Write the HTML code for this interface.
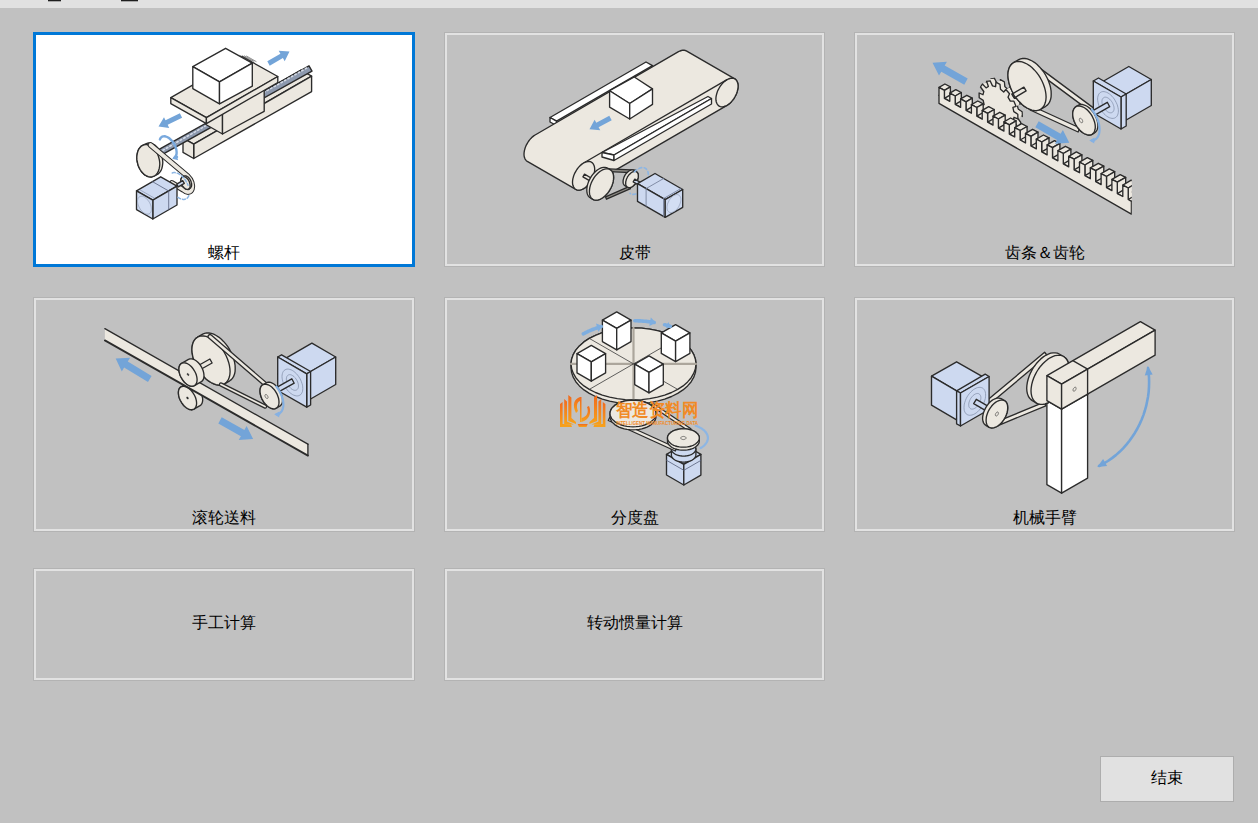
<!DOCTYPE html>
<html><head><meta charset="utf-8">
<style>
html,body{margin:0;padding:0;}
body{width:1258px;height:823px;background:#c1c1c1;position:relative;overflow:hidden;font-family:"Liberation Sans",sans-serif;}
.top{position:absolute;left:0;top:0;width:1258px;height:8px;background:#e1e1e1;}
.mk{position:absolute;top:0;height:1px;background:#1e1e1e;box-shadow:0 0.6px 0.4px rgba(30,30,30,.5);}
.card{position:absolute;box-sizing:border-box;border:1px solid #b3b3b3;}
.card .in{position:absolute;left:0;top:0;right:0;bottom:0;border:2px solid #e2e2e2;}
.card.sel{border:3px solid #0078d7;background:#fff;}
.lbl{position:absolute;left:0;right:0;text-align:center;font-size:16px;color:#000;line-height:16px;}
.btn{position:absolute;left:1100px;top:756px;width:134px;height:46px;box-sizing:border-box;border:1px solid #adadad;background:#e1e1e1;text-align:center;line-height:42px;font-size:16px;}
svg.ov{position:absolute;left:0;top:0;}
</style></head><body>
<div class="top"></div>
<div class="mk" style="left:48px;width:13px"></div>
<div class="mk" style="left:121px;width:17px"></div>

<div class="card sel" style="left:33px;top:32px;width:382px;height:235px"><div class="lbl" style="top:210px">螺杆</div></div>
<div class="card" style="left:444px;top:32px;width:381px;height:235px"><div class="in"></div><div class="lbl" style="top:212px">皮带</div></div>
<div class="card" style="left:854px;top:32px;width:381px;height:235px"><div class="in"></div><div class="lbl" style="top:212px">齿条＆齿轮</div></div>

<div class="card" style="left:33px;top:297px;width:382px;height:235px"><div class="in"></div><div class="lbl" style="top:212px">滚轮送料</div></div>
<div class="card" style="left:444px;top:297px;width:381px;height:235px"><div class="in"></div><div class="lbl" style="top:212px">分度盘</div></div>
<div class="card" style="left:854px;top:297px;width:381px;height:235px"><div class="in"></div><div class="lbl" style="top:212px">机械手臂</div></div>

<div class="card" style="left:33px;top:568px;width:382px;height:113px"><div class="in"></div><div class="lbl" style="top:46px">手工计算</div></div>
<div class="card" style="left:444px;top:568px;width:381px;height:113px"><div class="in"></div><div class="lbl" style="top:46px">转动惯量计算</div></div>

<div class="btn">结束</div>

<svg class="ov" width="1258" height="823" viewBox="0 0 1258 823">
<polygon points="183,138.1 193.7,144.2 311.6,76.1 300.9,70" fill="#ece8e0" stroke="#2b2b2b" stroke-width="1.35" stroke-linejoin="round" />
<polygon points="193.7,144.2 311.6,76.1 311.6,91.6 193.7,158.5" fill="#ece8e0" stroke="#2b2b2b" stroke-width="1.35" stroke-linejoin="round" />
<polygon points="183,138.1 193.7,144.2 193.7,158.5 183,152.4" fill="#ece8e0" stroke="#2b2b2b" stroke-width="1.35" stroke-linejoin="round" />
<polygon points="158.5,156.7 312,71.2 309,65.8 155.5,151.3" fill="#8d99ae" stroke="#2b2b2b" stroke-width="1.35" stroke-linejoin="round" />
<polyline points="159.5,152.2 308.5,67" fill="none" stroke="#d5dbe6" stroke-width="1.6" stroke-linejoin="round" stroke-linecap="round" stroke-dasharray="1.5 2.5"/>
<polygon points="205.8,103.5 222.5,113 222.5,134 205.8,124.5" fill="#ece8e0" stroke="#2b2b2b" stroke-width="1.35" stroke-linejoin="round" />
<polygon points="222.5,113 264.2,89 264.2,111.3 222.5,134" fill="#ece8e0" stroke="#2b2b2b" stroke-width="1.35" stroke-linejoin="round" />
<polygon points="170.8,97.7 206.4,117.6 277.8,76.5 242.2,56.6" fill="#ece8e0" stroke="#2b2b2b" stroke-width="1.35" stroke-linejoin="round" />
<polygon points="170.8,97.7 206.4,117.6 206.4,123.6 170.8,103.7" fill="#ece8e0" stroke="#2b2b2b" stroke-width="1.35" stroke-linejoin="round" />
<polygon points="206.4,117.6 277.8,76.5 277.8,82.5 206.4,123.6" fill="#ece8e0" stroke="#2b2b2b" stroke-width="1.35" stroke-linejoin="round" />
<polygon points="225.6,48.3 192.8,66.7 219.5,81.9 252.3,63.1" fill="#ffffff" stroke="#2b2b2b" stroke-width="1.35" stroke-linejoin="round" />
<polygon points="192.8,66.7 219.5,81.9 219.5,103.8 192.8,88.6" fill="#ffffff" stroke="#2b2b2b" stroke-width="1.35" stroke-linejoin="round" />
<polygon points="219.5,81.9 252.3,63.1 252.3,86.2 219.5,103.8" fill="#ffffff" stroke="#2b2b2b" stroke-width="1.35" stroke-linejoin="round" />
<polyline points="240,55.5 249.5,60.9" fill="none" stroke="#444" stroke-width="0.6" stroke-linejoin="round" stroke-linecap="round" />
<polyline points="242.2,55.7 251.7,61.1" fill="none" stroke="#444" stroke-width="0.6" stroke-linejoin="round" stroke-linecap="round" />
<polyline points="244.4,55.9 253.9,61.3" fill="none" stroke="#444" stroke-width="0.6" stroke-linejoin="round" stroke-linecap="round" />
<polyline points="246.6,56.1 256.1,61.5" fill="none" stroke="#444" stroke-width="0.6" stroke-linejoin="round" stroke-linecap="round" />
<polygon points="269.7,65.7 282.9,58.1 284.7,61.2 289.5,51.5 278.7,50.8 280.4,53.8 267.3,61.3" fill="#73a4d8"/>
<polygon points="179.9,113.3 165.5,120.3 164,117.2 158.5,126.5 169.2,127.9 167.7,124.8 182.1,117.7" fill="#73a4d8"/>
<polygon points="136.8,157.3 137,155.3 137.3,153.4 137.8,151.5 138.4,149.9 139.3,148.4 140.3,147.2 141.4,146.1 142.7,145.4 145.7,143.8 147,143.3 148.4,143 149.9,143.1 151.4,143.4 152.9,144 154.4,144.8 155.8,145.9 157.1,147.2 158.4,148.8 159.5,150.5 160.5,152.3 161.3,154.3 161.9,156.3 162.4,158.5 162.7,160.6 162.8,162.7 162.6,164.7 162.3,166.6 161.8,168.5 161.2,170.1 160.3,171.6 159.3,172.8 158.2,173.9 156.9,174.6 153.9,176.2 152.6,176.7 151.2,177 149.7,176.9 148.2,176.6 146.7,176 145.2,175.2 143.8,174.1 142.5,172.8 141.2,171.2 140.1,169.5 139.1,167.7 138.3,165.7 137.7,163.7 137.2,161.5 136.9,159.4" fill="#ece8e0" stroke="#2b2b2b" stroke-width="1.35" stroke-linejoin="round" />
<polygon points="158.9,158 159.4,160.1 159.7,162.2 159.8,164.3 159.6,166.3 159.3,168.2 158.8,170.1 158.2,171.7 157.3,173.2 156.3,174.4 155.2,175.5 153.9,176.2 152.6,176.7 151.1,177 149.7,176.9 148.2,176.6 146.7,176 145.2,175.2 143.8,174.1 142.5,172.8 141.2,171.2 140.1,169.5 139.1,167.7 138.3,165.7 137.7,163.6 137.2,161.5 136.9,159.4 136.8,157.3 137,155.3 137.3,153.4 137.8,151.5 138.4,149.9 139.3,148.4 140.3,147.2 141.4,146.1 142.7,145.4 144,144.9 145.5,144.6 146.9,144.7 148.4,145 149.9,145.6 151.4,146.4 152.8,147.5 154.1,148.8 155.4,150.4 156.5,152.1 157.5,153.9 158.3,155.9" fill="#ece8e0" stroke="#2b2b2b" stroke-width="1.35" stroke-linejoin="round" />
<path d="M150.5,145 L188,176.5 A4.5,7.2 -25 0 1 183.5,190 L172,183" fill="none" stroke="#2b2b2b" stroke-width="5.6" stroke-linejoin="round" stroke-linecap="round" />
<path d="M150.5,145 L188,176.5 A4.5,7.2 -25 0 1 183.5,190 L172,183" fill="none" stroke="#ece8e0" stroke-width="3.6" stroke-linejoin="round" stroke-linecap="round" />
<polygon points="180.9,180.6 180.9,179.8 181,179.1 181.2,178.5 181.5,177.9 181.8,177.5 182.2,177.1 182.6,176.8 184.1,176 184.6,175.9 185.2,175.8 185.7,175.9 186.3,176 186.9,176.3 187.5,176.7 188.1,177.1 188.7,177.7 189.2,178.3 189.8,179 190.2,179.7 190.6,180.5 191,181.3 191.2,182.2 191.4,183 191.6,183.8 191.6,184.6 191.6,185.4 191.5,186.1 191.3,186.7 191,187.2 190.7,187.7 190.3,188.1 189.9,188.4 188.4,189.2 187.9,189.3 187.3,189.4 186.8,189.3 186.2,189.2 185.6,188.9 185,188.6 184.4,188.1 183.8,187.6 183.2,186.9 182.7,186.2 182.3,185.5 181.9,184.7 181.5,183.9 181.2,183 181.1,182.2 180.9,181.4" fill="#ece8e0" stroke="#2b2b2b" stroke-width="1.35" stroke-linejoin="round" />
<polygon points="189.1,181.3 189.5,182.1 189.7,183 189.9,183.8 190.1,184.6 190.1,185.4 190.1,186.2 190,186.9 189.8,187.5 189.5,188 189.2,188.5 188.8,188.9 188.4,189.2 187.9,189.3 187.3,189.4 186.8,189.3 186.2,189.2 185.6,188.9 185,188.6 184.4,188.1 183.8,187.5 183.3,186.9 182.7,186.2 182.3,185.5 181.9,184.7 181.5,183.9 181.3,183 181.1,182.2 180.9,181.4 180.9,180.6 180.9,179.8 181,179.1 181.2,178.5 181.5,178 181.8,177.5 182.2,177.1 182.6,176.8 183.1,176.7 183.7,176.6 184.2,176.7 184.8,176.8 185.4,177.1 186,177.4 186.6,177.9 187.2,178.5 187.7,179.1 188.3,179.8 188.7,180.5" fill="#ece8e0" stroke="#2b2b2b" stroke-width="1.35" stroke-linejoin="round" />
<polygon points="136.5,190.8 160.7,176.8 177,186.2 152.8,200.2" fill="#cdd9f0" stroke="#2b2b2b" stroke-width="1.35" stroke-linejoin="round" />
<polygon points="152.8,200.2 177,186.2 177,205 152.8,219" fill="#cdd9f0" stroke="#2b2b2b" stroke-width="1.35" stroke-linejoin="round" />
<polygon points="136.5,190.8 152.8,200.2 152.8,219 136.5,209.6" fill="#cdd9f0" stroke="#2b2b2b" stroke-width="1.35" stroke-linejoin="round" />
<polyline points="168.7,191 168.7,209.8" fill="none" stroke="#56607a" stroke-width="0.8" stroke-linejoin="round" stroke-linecap="round" />
<polyline points="152.4,181.6 168.7,191" fill="none" stroke="#56607a" stroke-width="0.8" stroke-linejoin="round" stroke-linecap="round" />
<polyline points="140.4,190.1 154.5,198.2" fill="none" stroke="#7c879e" stroke-width="0.6" stroke-linejoin="round" stroke-linecap="round" />
<polygon points="151.4,209.2 151.3,210.2 151.2,211.1 150.9,212 150.5,212.7 150,213.2 149.4,213.7 148.7,214 147.9,214.1 147.1,214.1 146.3,214 145.4,213.7 144.5,213.2 143.6,212.6 142.7,211.9 141.8,211.1 141,210.1 140.2,209.1 139.6,208 139,206.9 138.5,205.7 138.1,204.6 137.8,203.4 137.6,202.3 137.5,201.2 137.6,200.2 137.8,199.3 138.1,198.4 138.5,197.7 139,197.2 139.6,196.7 140.2,196.4 141,196.3 141.8,196.3 142.7,196.4 143.6,196.7 144.5,197.2 145.4,197.8 146.3,198.5 147.1,199.3 147.9,200.3 148.7,201.3 149.4,202.4 150,203.5 150.5,204.7 150.9,205.8 151.2,207 151.3,208.1" fill="#d3def3" stroke="#8a96ac" stroke-width="0.6" stroke-linejoin="round" />
<polygon points="178.3,186.8 184.3,183.3 182.7,180.7 176.7,184.2" fill="#cdd9f0" stroke="#2b2b2b" stroke-width="1.35" stroke-linejoin="round" />
<polyline points="159.9,139.4 160.4,138.3 161.2,137.4 162.1,136.7 163.2,136.4 164.5,136.3 165.8,136.5 167.1,137 168.5,137.8 169.9,138.8 171.2,140.1 172.4,141.5 173.6,143.1 174.6,144.7 175.4,146.5 176,148.3 176.4,150.1 176.6,151.8 176.6,153.4 176.4,154.8 176,156.1 175.3,157.1 174.5,157.9 177,157" fill="none" stroke="#79a9de" stroke-width="2.4" stroke-linejoin="round" stroke-linecap="round" />
<polygon points="175.8,153.7 172.3,158.7 178.2,160.2" fill="#79a9de"/>
<polyline points="172.3,173 172.9,172.8 173.5,172.6 174.2,172.6 174.9,172.6 175.6,172.7 176.3,172.9 177,173.1 177.8,173.4 178.5,173.7 179.3,174.2 180.1,174.7 180.8,175.2 181.5,175.8 182.3,176.5 183,177.2 183.7,178 184.3,178.8 185,179.6 185.6,180.5 186.1,181.4 186.7,182.3 187.2,183.3 187.6,184.2 188,185.2" fill="none" stroke="#8db6e4" stroke-width="1.5" stroke-linejoin="round" stroke-linecap="round" stroke-dasharray="3 2"/>
<polyline points="188.8,195.7 188.5,196.3 188.3,196.7 188,197.2 187.7,197.6 187.3,198 187,198.3 186.6,198.6 186.1,198.8 185.7,199 185.2,199.2 184.7,199.3 184.2,199.4 183.7,199.4 183.1,199.4 182.6,199.3 182,199.2 181.4,199.1 180.8,198.9 180.2,198.6 179.6,198.3 179,198 178.4,197.6 177.8,197.2 177.2,196.8" fill="none" stroke="#8db6e4" stroke-width="1.5" stroke-linejoin="round" stroke-linecap="round" stroke-dasharray="3 2"/>
<polygon points="550,117.5 646,62 652.5,65.7 556.5,121.2" fill="#ffffff" stroke="#2b2b2b" stroke-width="1.35" stroke-linejoin="round" />
<polygon points="550,117.5 556.5,121.2 556.5,125.5 550,122" fill="#ffffff" stroke="#2b2b2b" stroke-width="1.35" stroke-linejoin="round" />
<polygon points="524,154.2 524.1,152.5 524.4,150.7 524.9,148.8 525.5,146.9 526.3,145.1 527.3,143.3 528.4,141.5 529.6,139.9 530.9,138.4 532.2,137.1 533.7,135.9 535.1,135 678.5,51.7 680,51 681.4,50.5 682.8,50.2 684,50.2 685.2,50.5 686.3,50.9 734.8,78.9 735.8,79.6 736.6,80.6 737.2,81.7 737.7,83 738,84.5 738.1,86.1 738,87.8 737.7,89.6 737.2,91.5 736.6,93.4 735.8,95.2 734.8,97 733.8,98.8 732.5,100.4 731.2,101.9 729.9,103.2 728.5,104.4 727,105.3 583.6,188.6 582.1,189.3 580.7,189.8 579.4,190.1 578.1,190.1 576.9,189.8 575.8,189.4 527.3,161.4 526.3,160.7 525.5,159.7 524.9,158.6 524.4,157.3 524.1,155.8" fill="#ece8e0" stroke="#2b2b2b" stroke-width="1.35" stroke-linejoin="round" />
<polygon points="738.1,86.1 738,87.8 737.7,89.6 737.2,91.5 736.6,93.4 735.8,95.2 734.8,97 733.7,98.8 732.5,100.4 731.2,101.9 729.9,103.2 728.4,104.4 727,105.3 725.6,106 724.1,106.5 722.8,106.8 721.5,106.8 720.3,106.6 719.2,106.1 718.2,105.4 717.4,104.4 716.8,103.3 716.3,102 716,100.5 715.9,98.9 716,97.2 716.3,95.4 716.8,93.5 717.4,91.6 718.2,89.8 719.2,88 720.3,86.2 721.5,84.6 722.8,83.1 724.1,81.8 725.6,80.6 727,79.7 728.4,79 729.9,78.5 731.2,78.2 732.5,78.2 733.7,78.4 734.8,78.9 735.8,79.6 736.6,80.6 737.2,81.7 737.7,83 738,84.5" fill="#ece8e0" stroke="#2b2b2b" stroke-width="1.35" stroke-linejoin="round" />
<polyline points="583.6,163 727,79.7" fill="none" stroke="#2b2b2b" stroke-width="1.35" stroke-linejoin="round" stroke-linecap="round" />
<polygon points="602,152.5 708,96.5 711.5,98.5 614,155" fill="#ffffff" stroke="#2b2b2b" stroke-width="1.35" stroke-linejoin="round" />
<polygon points="602,152.5 614,155 614,160.5 602,157" fill="#ffffff" stroke="#2b2b2b" stroke-width="1.35" stroke-linejoin="round" />
<polygon points="614,155 711.5,98.5 711.5,104 614,160.5" fill="#ffffff" stroke="#2b2b2b" stroke-width="1.35" stroke-linejoin="round" />
<polygon points="634.3,77 609.6,90.7 629.7,103.5 652.5,88.9" fill="#ffffff" stroke="#2b2b2b" stroke-width="1.35" stroke-linejoin="round" />
<polygon points="609.6,90.7 629.7,103.5 629.7,119 609.6,107.2" fill="#ffffff" stroke="#2b2b2b" stroke-width="1.35" stroke-linejoin="round" />
<polygon points="629.7,103.5 652.5,88.9 652.5,104.4 629.7,119" fill="#ffffff" stroke="#2b2b2b" stroke-width="1.35" stroke-linejoin="round" />
<polygon points="609.3,115.8 596.3,122.8 594.6,119.7 589.5,129.2 600.3,130.3 598.6,127.2 611.7,120.2" fill="#73a4d8"/>
<polygon points="594.7,169.4 594.6,171.1 594.3,172.9 593.8,174.8 593.2,176.7 592.4,178.5 591.4,180.3 590.3,182.1 589.1,183.7 587.8,185.2 586.5,186.5 585,187.7 583.6,188.6 582.2,189.3 580.7,189.8 579.4,190.1 578.1,190.1 576.9,189.9 575.8,189.4 574.8,188.7 574,187.7 573.4,186.6 572.9,185.3 572.6,183.8 572.5,182.2 572.6,180.5 572.9,178.7 573.4,176.8 574,174.9 574.8,173.1 575.8,171.3 576.9,169.5 578.1,167.9 579.4,166.4 580.7,165.1 582.2,163.9 583.6,163 585,162.3 586.5,161.8 587.8,161.5 589.1,161.5 590.3,161.7 591.4,162.2 592.4,162.9 593.2,163.9 593.8,165 594.3,166.3 594.6,167.8" fill="#ece8e0" stroke="#2b2b2b" stroke-width="1.35" stroke-linejoin="round" />
<polygon points="582.9,176.8 591.2,181.6 592.8,179 584.5,174.2" fill="#ece8e0" stroke="#2b2b2b" stroke-width="1.35" stroke-linejoin="round" />
<polygon points="603.9,171.3 635.9,172.8 636.1,170.2 604.1,168.7" fill="#8d8a84" stroke="#2b2b2b" stroke-width="1.35" stroke-linejoin="round" />
<polygon points="606.5,199.2 630.5,188.7 629.5,186.3 605.5,196.8" fill="#8d8a84" stroke="#2b2b2b" stroke-width="1.35" stroke-linejoin="round" />
<polygon points="586.8,190 586.9,188.1 587.2,186.1 587.7,184.1 588.4,182.1 589.3,180 590.3,178.1 591.5,176.2 592.8,174.4 594.3,172.7 595.8,171.3 597.3,170 598.9,169 600.5,168.2 602,167.7 603.5,167.4 605,167.4 606.3,167.6 607.5,168.2 610.1,169.7 611.1,170.4 612,171.4 612.7,172.7 613.2,174.1 613.5,175.7 613.6,177.5 613.5,179.4 613.2,181.4 612.7,183.4 612,185.4 611.1,187.5 610.1,189.4 608.9,191.3 607.6,193.1 606.1,194.8 604.6,196.2 603.1,197.5 601.5,198.5 599.9,199.3 598.4,199.8 596.9,200.1 595.4,200.1 594.1,199.9 592.9,199.3 590.3,197.8 589.3,197.1 588.4,196.1 587.7,194.8 587.2,193.4 586.9,191.8" fill="#ece8e0" stroke="#2b2b2b" stroke-width="1.35" stroke-linejoin="round" />
<polygon points="613.6,177.5 613.5,179.4 613.2,181.4 612.7,183.4 612,185.4 611.1,187.5 610.1,189.4 608.9,191.3 607.6,193.1 606.1,194.8 604.6,196.2 603.1,197.5 601.5,198.5 599.9,199.3 598.4,199.8 596.9,200.1 595.4,200.1 594.1,199.9 592.9,199.3 591.9,198.6 591,197.6 590.3,196.3 589.8,194.9 589.5,193.3 589.4,191.5 589.5,189.6 589.8,187.6 590.3,185.6 591,183.6 591.9,181.5 592.9,179.6 594.1,177.7 595.4,175.9 596.9,174.2 598.4,172.8 599.9,171.5 601.5,170.5 603.1,169.7 604.6,169.2 606.1,168.9 607.6,168.9 608.9,169.1 610.1,169.7 611.1,170.4 612,171.4 612.7,172.7 613.2,174.1 613.5,175.7" fill="#ece8e0" stroke="#2b2b2b" stroke-width="1.35" stroke-linejoin="round" />
<polygon points="623.1,181.7 623.1,180.7 623.3,179.6 623.6,178.6 623.9,177.5 624.4,176.4 624.9,175.4 625.5,174.4 626.2,173.5 627,172.7 627.8,171.9 628.6,171.2 629.4,170.7 630.2,170.3 631,170 631.8,169.9 632.6,169.8 633.2,170 633.9,170.3 636.5,171.8 637,172.2 637.5,172.7 637.8,173.3 638.1,174.1 638.3,174.9 638.3,175.8 638.3,176.8 638.1,177.9 637.8,178.9 637.5,180 637,181.1 636.5,182.1 635.9,183.1 635.2,184 634.4,184.8 633.6,185.6 632.8,186.3 632,186.8 631.2,187.2 630.4,187.5 629.6,187.6 628.8,187.7 628.1,187.5 627.5,187.2 624.9,185.7 624.4,185.3 623.9,184.8 623.6,184.2 623.3,183.4 623.1,182.6" fill="#ece8e0" stroke="#2b2b2b" stroke-width="1.35" stroke-linejoin="round" />
<polygon points="638.3,175.8 638.3,176.8 638.1,177.9 637.8,178.9 637.5,180 637,181 636.5,182.1 635.8,183.1 635.2,184 634.4,184.8 633.6,185.6 632.8,186.3 632,186.8 631.2,187.2 630.4,187.5 629.6,187.6 628.8,187.6 628.2,187.5 627.5,187.2 627,186.8 626.5,186.3 626.2,185.7 625.9,184.9 625.7,184.1 625.7,183.2 625.7,182.2 625.9,181.1 626.2,180.1 626.5,179 627,178 627.5,176.9 628.2,175.9 628.8,175 629.6,174.2 630.4,173.4 631.2,172.7 632,172.2 632.8,171.8 633.6,171.5 634.4,171.4 635.2,171.4 635.8,171.5 636.5,171.8 637,172.2 637.5,172.7 637.8,173.3 638.1,174.1 638.3,174.9" fill="#ece8e0" stroke="#2b2b2b" stroke-width="1.35" stroke-linejoin="round" />
<polygon points="633.2,181.9 639.2,185.4 640.8,182.6 634.8,179.1" fill="#cdd9f0" stroke="#2b2b2b" stroke-width="1.35" stroke-linejoin="round" />
<polyline points="634.4,171.8 636.3,170.2 638.2,168.9 640,168.1 641.8,167.6 643.5,167.6 645,168.1 646.3,169 647.3,170.3 648,171.9 648.3,173.8 648.4,176 648,178.3 647.4,180.7 646.4,183.2 645.2,185.5 643.7,187.7 642,189.7 640.2,191.4 638.4,192.8 636.5,193.7 634.7,194.3 632.9,194.4 631.4,194.1 630,193.3" fill="none" stroke="#8db6e4" stroke-width="1.6" stroke-linejoin="round" stroke-linecap="round" stroke-dasharray="3 2.5"/>
<polygon points="665.2,199.6 637.5,183.6 655,173.5 682.7,189.5" fill="#cdd9f0" stroke="#2b2b2b" stroke-width="1.35" stroke-linejoin="round" />
<polygon points="637.5,183.6 665.2,199.6 665.2,217.4 637.5,201.4" fill="#cdd9f0" stroke="#2b2b2b" stroke-width="1.35" stroke-linejoin="round" />
<polygon points="665.2,199.6 682.7,189.5 682.7,207.3 665.2,217.4" fill="#cdd9f0" stroke="#2b2b2b" stroke-width="1.35" stroke-linejoin="round" />
<polyline points="646.1,188.6 646.1,206.4" fill="none" stroke="#6d7893" stroke-width="0.8" stroke-linejoin="round" stroke-linecap="round" />
<polyline points="663.5,198.6 663.5,216.4" fill="none" stroke="#6d7893" stroke-width="0.8" stroke-linejoin="round" stroke-linecap="round" />
<polyline points="646.1,188.6 663.6,178.5" fill="none" stroke="#6d7893" stroke-width="0.8" stroke-linejoin="round" stroke-linecap="round" />
<polyline points="663.5,198.6 681,188.5" fill="none" stroke="#6d7893" stroke-width="0.8" stroke-linejoin="round" stroke-linecap="round" />
<polygon points="680.9,199.5 680.8,200.6 680.6,201.8 680.3,202.9 679.9,204.1 679.4,205.2 678.8,206.4 678.2,207.5 677.4,208.5 676.6,209.4 675.7,210.2 674.9,211 673.9,211.5 673,212 672.2,212.3 671.3,212.5 670.5,212.5 669.7,212.3 669,212 668.5,211.6 667.9,211 667.5,210.3 667.3,209.5 667.1,208.6 667,207.5 667.1,206.5 667.3,205.3 667.5,204.2 667.9,203 668.5,201.9 669,200.7 669.7,199.6 670.5,198.6 671.3,197.7 672.2,196.9 673,196.1 673.9,195.5 674.9,195.1 675.7,194.8 676.6,194.6 677.4,194.6 678.2,194.8 678.8,195.1 679.4,195.5 679.9,196.1 680.3,196.8 680.6,197.6 680.8,198.5" fill="#d3def3" stroke="#8a96ac" stroke-width="0.6" stroke-linejoin="round" />
<polygon points="1018.3,114.8 1017.5,118 1020.8,122.5 1018.9,125.5 1015.2,121.6 1013,123 1014.7,128.2 1011.2,128.7 1008.8,123.6 1005.7,122.8 1005.4,127.3 1001.3,125.1 1000.8,120.2 997.6,117.5 995.4,120 991.8,115.7 993.4,112.3 991,108.4 987.4,108.3 985.3,103.1 988.4,102.1 987.5,97.9 983.5,95.3 983.4,90.5 987.4,92.2 988.1,89 984.8,84.5 986.8,81.5 990.5,85.4 992.7,84 991,78.8 994.4,78.3 996.9,83.4 1000,84.2 1000.3,79.7 1004.3,81.9 1004.9,86.8 1008,89.5 1010.3,87 1013.9,91.3 1012.3,94.7 1014.7,98.6 1018.3,98.7 1020.4,103.9 1017.2,104.9 1018.2,109.1 1022.1,111.7 1022.3,116.5" fill="#ece8e0" stroke="#2b2b2b" stroke-width="1.35" stroke-linejoin="round" />
<polygon points="1017.4,115.3 1016.7,118.5 1020,123 1018,126 1014.3,122.1 1012.1,123.5 1013.8,128.7 1010.4,129.2 1007.9,124.1 1004.8,123.3 1004.5,127.8 1000.5,125.6 999.9,120.7 996.8,118 994.5,120.5 990.9,116.2 992.5,112.8 990.1,108.9 986.5,108.8 984.4,103.6 987.6,102.6 986.6,98.4 982.6,95.8 982.5,91 986.5,92.7 987.3,89.5 984,85 985.9,82 989.6,85.9 991.8,84.5 990.1,79.3 993.6,78.8 996,83.9 999.1,84.7 999.4,80.2 1003.5,82.4 1004,87.3 1007.2,90 1009.4,87.5 1013,91.8 1011.4,95.2 1013.8,99.1 1017.4,99.2 1019.5,104.4 1016.4,105.4 1017.3,109.6 1021.3,112.2 1021.4,117" fill="#ece8e0" stroke="none" stroke-width="1.35" stroke-linejoin="round" />
<polygon points="1016.6,115.8 1015.8,119 1019.1,123.5 1017.2,126.5 1013.5,122.6 1011.2,124 1013,129.2 1009.5,129.7 1007.1,124.6 1004,123.8 1003.7,128.3 999.6,126.1 999.1,121.2 995.9,118.5 993.7,121 990.1,116.7 991.6,113.3 989.3,109.4 985.7,109.3 983.5,104.1 986.7,103.1 985.8,98.9 981.8,96.3 981.7,91.5 985.6,93.2 986.4,90 983.1,85.5 985,82.5 988.7,86.4 991,85 989.2,79.8 992.7,79.3 995.1,84.4 998.2,85.2 998.5,80.7 1002.6,82.9 1003.1,87.8 1006.3,90.5 1008.5,88 1012.1,92.3 1010.6,95.7 1012.9,99.6 1016.5,99.7 1018.7,104.9 1015.5,105.9 1016.4,110.1 1020.4,112.7 1020.5,117.5" fill="#ece8e0" stroke="none" stroke-width="1.35" stroke-linejoin="round" />
<polygon points="1015.7,116.3 1014.9,119.5 1018.2,124 1016.3,127 1012.6,123.1 1010.4,124.5 1012.1,129.7 1008.6,130.2 1006.2,125.1 1003.1,124.3 1002.8,128.8 998.7,126.6 998.2,121.7 995,119 992.8,121.5 989.2,117.2 990.8,113.8 988.4,109.9 984.8,109.8 982.7,104.6 985.8,103.6 984.9,99.4 980.9,96.8 980.8,92 984.8,93.7 985.5,90.5 982.2,86 984.2,83 987.9,86.9 990.1,85.5 988.4,80.3 991.8,79.8 994.3,84.9 997.4,85.7 997.7,81.2 1001.7,83.4 1002.3,88.3 1005.4,91 1007.7,88.5 1011.3,92.8 1009.7,96.2 1012.1,100.1 1015.7,100.2 1017.8,105.4 1014.6,106.4 1015.6,110.6 1019.5,113.2 1019.7,118" fill="#ece8e0" stroke="none" stroke-width="1.35" stroke-linejoin="round" />
<polygon points="1014.8,116.8 1014.1,120 1017.4,124.5 1015.4,127.5 1011.7,123.6 1009.5,125 1011.2,130.2 1007.8,130.7 1005.3,125.6 1002.2,124.8 1001.9,129.3 997.9,127.1 997.3,122.2 994.2,119.5 991.9,122 988.3,117.7 989.9,114.3 987.5,110.4 983.9,110.3 981.8,105.1 985,104.1 984,99.9 980,97.3 979.9,92.5 983.9,94.2 984.7,91 981.4,86.5 983.3,83.5 987,87.4 989.2,86 987.5,80.8 991,80.3 993.4,85.4 996.5,86.2 996.8,81.7 1000.9,83.9 1001.4,88.8 1004.6,91.5 1006.8,89 1010.4,93.3 1008.8,96.7 1011.2,100.6 1014.8,100.7 1016.9,105.9 1013.8,106.9 1014.7,111.1 1018.7,113.7 1018.8,118.5" fill="#ece8e0" stroke="none" stroke-width="1.35" stroke-linejoin="round" />
<polygon points="1014,117.3 1013.2,120.5 1016.5,125 1014.6,128 1010.9,124.1 1008.6,125.5 1010.4,130.7 1006.9,131.2 1004.5,126.1 1001.4,125.3 1001.1,129.8 997,127.6 996.5,122.7 993.3,120 991.1,122.5 987.5,118.2 989,114.8 986.7,110.9 983.1,110.8 980.9,105.6 984.1,104.6 983.2,100.4 979.2,97.8 979.1,93 983,94.7 983.8,91.5 980.5,87 982.4,84 986.1,87.9 988.4,86.5 986.6,81.3 990.1,80.8 992.5,85.9 995.6,86.7 995.9,82.2 1000,84.4 1000.5,89.3 1003.7,92 1005.9,89.5 1009.5,93.8 1008,97.2 1010.3,101.1 1013.9,101.2 1016.1,106.4 1012.9,107.4 1013.8,111.6 1017.8,114.2 1017.9,119" fill="#ece8e0" stroke="#2b2b2b" stroke-width="1.35" stroke-linejoin="round" />
<clipPath id="rc"><rect x="900" y="40" width="231.8" height="200"/></clipPath><g clip-path="url(#rc)">
<polygon points="939,95.4 1131.4,201.3 1139.9,196.4 944.9,92" fill="#ece8e0" stroke="#2b2b2b" stroke-width="1.35" stroke-linejoin="round" />
<polygon points="939,87.4 944.4,90.3 950.4,86.8 944.9,84" fill="#ece8e0" stroke="#2b2b2b" stroke-width="1.35" stroke-linejoin="round" />
<polygon points="944.4,90.3 950.4,86.8 950.4,94.9 944.4,98.4" fill="#ece8e0" stroke="#2b2b2b" stroke-width="1.35" stroke-linejoin="round" />
<polygon points="949.8,93.1 955.2,96 961.3,92.5 955.8,89.7" fill="#ece8e0" stroke="#2b2b2b" stroke-width="1.35" stroke-linejoin="round" />
<polygon points="955.2,96 961.3,92.5 961.3,100.8 955.2,104.3" fill="#ece8e0" stroke="#2b2b2b" stroke-width="1.35" stroke-linejoin="round" />
<polygon points="960.6,98.9 966,101.8 972.3,98.2 966.8,95.3" fill="#ece8e0" stroke="#2b2b2b" stroke-width="1.35" stroke-linejoin="round" />
<polygon points="966,101.8 972.3,98.2 972.3,106.7 966,110.3" fill="#ece8e0" stroke="#2b2b2b" stroke-width="1.35" stroke-linejoin="round" />
<polygon points="971.4,104.6 976.8,107.5 983.2,103.8 977.8,101" fill="#ece8e0" stroke="#2b2b2b" stroke-width="1.35" stroke-linejoin="round" />
<polygon points="976.8,107.5 983.2,103.8 983.2,112.5 976.8,116.2" fill="#ece8e0" stroke="#2b2b2b" stroke-width="1.35" stroke-linejoin="round" />
<polygon points="982.2,110.4 987.6,113.3 994.2,109.5 988.7,106.6" fill="#ece8e0" stroke="#2b2b2b" stroke-width="1.35" stroke-linejoin="round" />
<polygon points="987.6,113.3 994.2,109.5 994.2,118.4 987.6,122.2" fill="#ece8e0" stroke="#2b2b2b" stroke-width="1.35" stroke-linejoin="round" />
<polygon points="993,116.1 998.4,119 1005.2,115.1 999.7,112.3" fill="#ece8e0" stroke="#2b2b2b" stroke-width="1.35" stroke-linejoin="round" />
<polygon points="998.4,119 1005.2,115.1 1005.2,124.2 998.4,128.1" fill="#ece8e0" stroke="#2b2b2b" stroke-width="1.35" stroke-linejoin="round" />
<polygon points="1003.9,121.9 1009.3,124.8 1016.1,120.8 1010.6,118" fill="#ece8e0" stroke="#2b2b2b" stroke-width="1.35" stroke-linejoin="round" />
<polygon points="1009.3,124.8 1016.1,120.8 1016.1,130.1 1009.3,134.1" fill="#ece8e0" stroke="#2b2b2b" stroke-width="1.35" stroke-linejoin="round" />
<polygon points="1014.7,127.6 1020.1,130.5 1027.1,126.5 1021.6,123.6" fill="#ece8e0" stroke="#2b2b2b" stroke-width="1.35" stroke-linejoin="round" />
<polygon points="1020.1,130.5 1027.1,126.5 1027.1,136 1020.1,140" fill="#ece8e0" stroke="#2b2b2b" stroke-width="1.35" stroke-linejoin="round" />
<polygon points="1025.5,133.4 1030.9,136.3 1038,132.1 1032.6,129.3" fill="#ece8e0" stroke="#2b2b2b" stroke-width="1.35" stroke-linejoin="round" />
<polygon points="1030.9,136.3 1038,132.1 1038,141.8 1030.9,146" fill="#ece8e0" stroke="#2b2b2b" stroke-width="1.35" stroke-linejoin="round" />
<polygon points="1036.3,139.1 1041.7,142 1049,137.8 1043.5,135" fill="#ece8e0" stroke="#2b2b2b" stroke-width="1.35" stroke-linejoin="round" />
<polygon points="1041.7,142 1049,137.8 1049,147.7 1041.7,151.9" fill="#ece8e0" stroke="#2b2b2b" stroke-width="1.35" stroke-linejoin="round" />
<polygon points="1047.1,144.9 1052.5,147.7 1059.9,143.4 1054.5,140.6" fill="#ece8e0" stroke="#2b2b2b" stroke-width="1.35" stroke-linejoin="round" />
<polygon points="1052.5,147.7 1059.9,143.4 1059.9,153.6 1052.5,157.9" fill="#ece8e0" stroke="#2b2b2b" stroke-width="1.35" stroke-linejoin="round" />
<polygon points="1057.9,150.6 1063.3,153.5 1070.9,149.1 1065.4,146.3" fill="#ece8e0" stroke="#2b2b2b" stroke-width="1.35" stroke-linejoin="round" />
<polygon points="1063.3,153.5 1070.9,149.1 1070.9,159.4 1063.3,163.8" fill="#ece8e0" stroke="#2b2b2b" stroke-width="1.35" stroke-linejoin="round" />
<polygon points="1068.7,156.4 1074.1,159.2 1081.9,154.8 1076.4,151.9" fill="#ece8e0" stroke="#2b2b2b" stroke-width="1.35" stroke-linejoin="round" />
<polygon points="1074.1,159.2 1081.9,154.8 1081.9,165.3 1074.1,169.8" fill="#ece8e0" stroke="#2b2b2b" stroke-width="1.35" stroke-linejoin="round" />
<polygon points="1079.5,162.1 1084.9,165 1092.8,160.4 1087.3,157.6" fill="#ece8e0" stroke="#2b2b2b" stroke-width="1.35" stroke-linejoin="round" />
<polygon points="1084.9,165 1092.8,160.4 1092.8,171.2 1084.9,175.7" fill="#ece8e0" stroke="#2b2b2b" stroke-width="1.35" stroke-linejoin="round" />
<polygon points="1090.3,167.9 1095.7,170.7 1103.8,166.1 1098.3,163.3" fill="#ece8e0" stroke="#2b2b2b" stroke-width="1.35" stroke-linejoin="round" />
<polygon points="1095.7,170.7 1103.8,166.1 1103.8,177 1095.7,181.7" fill="#ece8e0" stroke="#2b2b2b" stroke-width="1.35" stroke-linejoin="round" />
<polygon points="1101.1,173.6 1106.5,176.5 1114.7,171.7 1109.3,168.9" fill="#ece8e0" stroke="#2b2b2b" stroke-width="1.35" stroke-linejoin="round" />
<polygon points="1106.5,176.5 1114.7,171.7 1114.7,182.9 1106.5,187.6" fill="#ece8e0" stroke="#2b2b2b" stroke-width="1.35" stroke-linejoin="round" />
<polygon points="1111.9,179.4 1117.3,182.2 1125.7,177.4 1120.2,174.6" fill="#ece8e0" stroke="#2b2b2b" stroke-width="1.35" stroke-linejoin="round" />
<polygon points="1117.3,182.2 1125.7,177.4 1125.7,188.7 1117.3,193.6" fill="#ece8e0" stroke="#2b2b2b" stroke-width="1.35" stroke-linejoin="round" />
<polygon points="1122.8,185.1 1128.2,188 1136.7,183.1 1131.2,180.2" fill="#ece8e0" stroke="#2b2b2b" stroke-width="1.35" stroke-linejoin="round" />
<polygon points="1128.2,188 1136.7,183.1 1136.7,194.6 1128.2,199.5" fill="#ece8e0" stroke="#2b2b2b" stroke-width="1.35" stroke-linejoin="round" />
<polygon points="939,103.4 939,87.4 944.4,90.3 944.4,98.4 949.8,101.3 949.8,93.1 955.2,96 955.2,104.3 960.6,107.3 960.6,98.9 966,101.8 966,110.3 971.4,113.2 971.4,104.6 976.8,107.5 976.8,116.2 982.2,119.2 982.2,110.4 987.6,113.3 987.6,122.2 993,125.1 993,116.1 998.4,119 998.4,128.1 1003.9,131.1 1003.9,121.9 1009.3,124.8 1009.3,134.1 1014.7,137 1014.7,127.6 1020.1,130.5 1020.1,140 1025.5,143 1025.5,133.4 1030.9,136.3 1030.9,146 1036.3,148.9 1036.3,139.1 1041.7,142 1041.7,151.9 1047.1,154.9 1047.1,144.9 1052.5,147.7 1052.5,157.9 1057.9,160.8 1057.9,150.6 1063.3,153.5 1063.3,163.8 1068.7,166.8 1068.7,156.4 1074.1,159.2 1074.1,169.8 1079.5,172.7 1079.5,162.1 1084.9,165 1084.9,175.7 1090.3,178.7 1090.3,167.9 1095.7,170.7 1095.7,181.7 1101.1,184.6 1101.1,173.6 1106.5,176.5 1106.5,187.6 1111.9,190.6 1111.9,179.4 1117.3,182.2 1117.3,193.6 1122.8,196.5 1122.8,185.1 1128.2,188 1128.2,199.5 1131.4,201.3 1131.4,214.1" fill="#ece8e0" stroke="#2b2b2b" stroke-width="1.35" stroke-linejoin="round" />
</g>
<polygon points="1025.6,63.4 1091.6,112.4 1094.4,108.6 1028.4,59.6" fill="#ece8e0" stroke="#2b2b2b" stroke-width="1.35" stroke-linejoin="round" />
<polygon points="1030.1,110 1078.1,132 1079.9,128 1031.9,106" fill="#ece8e0" stroke="#2b2b2b" stroke-width="1.35" stroke-linejoin="round" />
<polygon points="1014.2,97.9 1029.2,88.9 1026.8,85.1 1011.8,94.1" fill="#ece8e0" stroke="#2b2b2b" stroke-width="1.35" stroke-linejoin="round" />
<polygon points="1008,75 1008.1,72.2 1008.6,69.7 1009.4,67.4 1010.5,65.5 1011.9,63.9 1013.5,62.7 1018.7,59.7 1020.6,58.9 1022.7,58.5 1024.9,58.5 1027.3,58.9 1029.7,59.8 1032.2,61 1034.7,62.6 1037.1,64.6 1039.5,66.9 1041.7,69.5 1043.8,72.2 1045.7,75.2 1047.3,78.3 1048.7,81.5 1049.8,84.7 1050.6,87.9 1051.1,91 1051.2,94 1051.1,96.8 1050.6,99.3 1049.8,101.6 1048.7,103.5 1047.3,105.1 1045.7,106.3 1040.5,109.3 1038.6,110.2 1036.5,110.5 1034.3,110.5 1031.9,110.1 1029.5,109.2 1027,108 1024.5,106.4 1022.1,104.4 1019.7,102.1 1017.5,99.5 1015.4,96.8 1013.5,93.8 1011.9,90.7 1010.5,87.5 1009.4,84.3 1008.6,81.1 1008.1,78" fill="#ece8e0" stroke="#2b2b2b" stroke-width="1.35" stroke-linejoin="round" />
<polygon points="1046.1,97 1045.9,99.8 1045.4,102.3 1044.6,104.6 1043.5,106.5 1042.1,108.1 1040.5,109.3 1038.6,110.2 1036.5,110.6 1034.3,110.5 1031.9,110.1 1029.5,109.2 1027,108 1024.5,106.4 1022.1,104.4 1019.7,102.1 1017.5,99.6 1015.4,96.8 1013.5,93.8 1011.9,90.7 1010.5,87.5 1009.4,84.3 1008.6,81.1 1008.1,78 1007.9,75 1008.1,72.2 1008.6,69.7 1009.4,67.4 1010.5,65.5 1011.9,63.9 1013.5,62.7 1015.4,61.8 1017.5,61.4 1019.7,61.5 1022.1,61.9 1024.5,62.8 1027,64 1029.5,65.6 1031.9,67.6 1034.3,69.9 1036.5,72.4 1038.6,75.2 1040.5,78.2 1042.1,81.3 1043.5,84.5 1044.6,87.7 1045.4,90.9 1045.9,94" fill="#ece8e0" stroke="#2b2b2b" stroke-width="1.35" stroke-linejoin="round" />
<polygon points="1015.1,97.4 1026.1,90.9 1023.9,87.1 1012.9,93.6" fill="#ece8e0" stroke="#2b2b2b" stroke-width="1.35" stroke-linejoin="round" />
<polygon points="1101.1,82.5 1128.8,66.5 1151.3,79.5 1123.6,95.5" fill="#cdd9f0" stroke="#2b2b2b" stroke-width="1.35" stroke-linejoin="round" />
<polygon points="1123.6,95.5 1151.3,79.5 1151.3,105.5 1123.6,121.5" fill="#cdd9f0" stroke="#2b2b2b" stroke-width="1.35" stroke-linejoin="round" />
<polygon points="1093.3,81 1098.5,78 1126.2,94 1121,97" fill="#cdd9f0" stroke="#2b2b2b" stroke-width="1.35" stroke-linejoin="round" />
<polygon points="1121,97 1126.2,94 1126.2,126 1121,129" fill="#cdd9f0" stroke="#2b2b2b" stroke-width="1.35" stroke-linejoin="round" />
<polygon points="1093.3,81 1121,97 1121,129 1093.3,113" fill="#cdd9f0" stroke="#2b2b2b" stroke-width="1.35" stroke-linejoin="round" />
<polygon points="1118.4,111 1118.3,112.5 1118,113.9 1117.6,115.1 1117,116.2 1116.2,117.1 1115.3,117.7 1114.3,118.2 1113.2,118.4 1112,118.4 1110.7,118.1 1109.4,117.7 1108,117 1106.6,116.1 1105.3,115 1104,113.8 1102.8,112.4 1101.7,110.9 1100.7,109.2 1099.8,107.5 1099,105.8 1098.4,104 1098,102.3 1097.7,100.6 1097.6,99 1097.7,97.5 1098,96.1 1098.4,94.9 1099,93.8 1099.8,92.9 1100.7,92.3 1101.7,91.8 1102.8,91.6 1104,91.6 1105.3,91.9 1106.6,92.3 1108,93 1109.4,93.9 1110.7,95 1112,96.2 1113.2,97.6 1114.3,99.1 1115.3,100.8 1116.2,102.5 1117,104.2 1117.6,106 1118,107.7 1118.3,109.4" fill="none" stroke="#7d8aa3" stroke-width="0.7" stroke-linejoin="round" />
<polygon points="1114.1,108.5 1114,109.4 1113.9,110.2 1113.6,110.9 1113.2,111.5 1112.8,112 1112.3,112.4 1111.7,112.7 1111,112.8 1110.3,112.8 1109.6,112.7 1108.8,112.4 1108,112 1107.2,111.5 1106.4,110.9 1105.7,110.1 1105,109.3 1104.3,108.4 1103.7,107.5 1103.2,106.5 1102.8,105.5 1102.4,104.4 1102.1,103.4 1102,102.4 1101.9,101.5 1102,100.6 1102.1,99.8 1102.4,99.1 1102.8,98.5 1103.2,98 1103.7,97.6 1104.3,97.3 1105,97.2 1105.7,97.2 1106.4,97.3 1107.2,97.6 1108,98 1108.8,98.5 1109.6,99.1 1110.3,99.9 1111,100.7 1111.7,101.6 1112.3,102.5 1112.8,103.5 1113.2,104.5 1113.6,105.6 1113.9,106.6 1114,107.6" fill="none" stroke="#7d8aa3" stroke-width="0.7" stroke-linejoin="round" />
<polygon points="1107.3,102.3 1089.8,112.3 1092.2,116.7 1109.7,106.7" fill="#cdd9f0" stroke="#2b2b2b" stroke-width="1.35" stroke-linejoin="round" />
<polygon points="1072.7,114 1072.8,112.4 1073.1,110.9 1073.6,109.5 1074.2,108.4 1075.1,107.4 1076,106.7 1078.6,105.2 1079.7,104.7 1081,104.5 1082.3,104.5 1083.7,104.8 1085.1,105.3 1086.6,106 1088.1,107 1089.5,108.1 1090.9,109.5 1092.2,111 1093.5,112.6 1094.6,114.4 1095.5,116.2 1096.3,118.1 1097,120 1097.5,121.9 1097.8,123.8 1097.9,125.5 1097.8,127.1 1097.5,128.6 1097,130 1096.3,131.1 1095.5,132.1 1094.6,132.8 1092,134.3 1090.8,134.8 1089.6,135 1088.3,135 1086.9,134.7 1085.5,134.2 1084,133.5 1082.5,132.5 1081.1,131.4 1079.7,130 1078.4,128.5 1077.2,126.9 1076,125.1 1075.1,123.3 1074.2,121.4 1073.6,119.5 1073.1,117.6 1072.8,115.8" fill="#ece8e0" stroke="#2b2b2b" stroke-width="1.35" stroke-linejoin="round" />
<polygon points="1095.3,127 1095.2,128.6 1094.9,130.1 1094.4,131.5 1093.7,132.6 1092.9,133.6 1092,134.3 1090.9,134.8 1089.6,135 1088.3,135 1086.9,134.7 1085.5,134.2 1084,133.5 1082.5,132.5 1081.1,131.4 1079.7,130 1078.4,128.5 1077.1,126.9 1076,125.1 1075.1,123.3 1074.3,121.4 1073.6,119.5 1073.1,117.6 1072.8,115.8 1072.7,114 1072.8,112.4 1073.1,110.9 1073.6,109.5 1074.3,108.4 1075.1,107.4 1076,106.7 1077.1,106.2 1078.4,106 1079.7,106 1081.1,106.3 1082.5,106.8 1084,107.5 1085.5,108.5 1086.9,109.6 1088.3,111 1089.6,112.5 1090.9,114.1 1092,115.9 1092.9,117.7 1093.7,119.6 1094.4,121.5 1094.9,123.4 1095.2,125.2" fill="#ece8e0" stroke="#2b2b2b" stroke-width="1.35" stroke-linejoin="round" />
<polygon points="1082.7,121.5 1082.7,121.8 1082.7,122 1082.6,122.2 1082.5,122.4 1082.4,122.5 1082.2,122.6 1082.1,122.7 1081.9,122.7 1081.7,122.7 1081.4,122.7 1081.2,122.6 1081,122.5 1080.8,122.4 1080.6,122.2 1080.3,122 1080.1,121.7 1079.9,121.5 1079.8,121.2 1079.6,120.9 1079.5,120.6 1079.4,120.3 1079.3,120.1 1079.3,119.8 1079.3,119.5 1079.3,119.2 1079.3,119 1079.4,118.8 1079.5,118.6 1079.6,118.5 1079.8,118.4 1079.9,118.3 1080.1,118.3 1080.3,118.3 1080.6,118.3 1080.8,118.4 1081,118.5 1081.2,118.6 1081.4,118.8 1081.7,119 1081.9,119.3 1082.1,119.5 1082.2,119.8 1082.4,120.1 1082.5,120.4 1082.6,120.7 1082.7,120.9 1082.7,121.2" fill="none" stroke="#2b2b2b" stroke-width="0.6" stroke-linejoin="round" />
<polygon points="967.7,78.5 944.7,65.6 946.9,61.7 932.5,62.8 939,75.6 941.3,71.7 964.3,84.7" fill="#73a4d8"/>
<polygon points="1035.3,127.3 1057.1,139.9 1054.9,143.8 1069.3,142.8 1062.9,129.9 1060.6,133.8 1038.7,121.3" fill="#73a4d8"/>
<polyline points="1091.8,109.4 1093,111 1094.2,112.8 1095.3,114.6 1096.2,116.4 1097.1,118.3 1097.8,120.2 1098.4,122.1 1098.9,124 1099.3,125.8 1099.5,127.6 1099.6,129.4 1099.5,131 1099.3,132.6 1099,134.1 1098.5,135.4 1097.9,136.6 1097.2,137.7 1096.4,138.6 1095.4,139.3 1094.4,139.9 1093.2,140.3 1092,140.6 1094.3,140.6" fill="none" stroke="#86b1e2" stroke-width="2.2" stroke-linejoin="round" stroke-linecap="round" />
<polygon points="1094.4,137.6 1089.3,140.5 1094.2,143.6" fill="#86b1e2"/>
<polygon points="178.4,392.8 178.5,391.4 178.7,390.2 179.1,389.1 179.6,388.2 180.3,387.4 181.1,386.9 187.1,383.4 188,383 189,382.8 190.1,382.8 191.2,383 192.4,383.4 193.6,384 194.8,384.8 195.9,385.7 197,386.8 198.1,388 199.1,389.4 200,390.8 200.8,392.3 201.4,393.8 202,395.3 202.3,396.9 202.6,398.3 202.7,399.8 202.6,401.1 202.3,402.3 202,403.4 201.4,404.3 200.8,405.1 200,405.6 193.9,409.1 193,409.5 192.1,409.7 191,409.7 189.8,409.5 188.7,409.1 187.5,408.5 186.3,407.7 185.2,406.8 184,405.7 182.9,404.5 182,403.1 181.1,401.7 180.3,400.2 179.6,398.7 179.1,397.2 178.7,395.6 178.5,394.2" fill="#ece8e0" stroke="#2b2b2b" stroke-width="1.35" stroke-linejoin="round" />
<polygon points="196.6,403.2 196.5,404.6 196.3,405.8 195.9,406.9 195.4,407.8 194.7,408.6 193.9,409.1 193,409.5 192,409.7 191,409.7 189.9,409.5 188.7,409.1 187.5,408.5 186.3,407.7 185.1,406.8 184,405.7 183,404.5 182,403.1 181.1,401.7 180.3,400.2 179.6,398.7 179.1,397.2 178.7,395.6 178.5,394.2 178.4,392.8 178.5,391.4 178.7,390.2 179.1,389.1 179.6,388.2 180.3,387.4 181.1,386.9 182,386.5 183,386.3 184,386.3 185.1,386.5 186.3,386.9 187.5,387.5 188.7,388.3 189.9,389.2 191,390.3 192,391.5 193,392.9 193.9,394.3 194.7,395.8 195.4,397.3 195.9,398.8 196.3,400.4 196.5,401.8" fill="#ece8e0" stroke="#2b2b2b" stroke-width="1.35" stroke-linejoin="round" />
<polygon points="188.4,398.5 188.4,398.6 188.3,398.7 188.3,398.8 188.2,398.9 188.2,399 188.1,399.1 188,399.1 187.9,399.1 187.8,399.1 187.7,399.1 187.6,399.1 187.5,399 187.4,398.9 187.3,398.8 187.2,398.7 187.1,398.6 187,398.5 186.9,398.4 186.8,398.2 186.8,398.1 186.7,397.9 186.7,397.8 186.6,397.6 186.6,397.5 186.6,397.4 186.7,397.3 186.7,397.2 186.8,397.1 186.8,397 186.9,396.9 187,396.9 187.1,396.9 187.2,396.9 187.3,396.9 187.4,396.9 187.5,397 187.6,397.1 187.7,397.2 187.8,397.3 187.9,397.4 188,397.5 188.1,397.6 188.2,397.8 188.2,397.9 188.3,398.1 188.3,398.2 188.4,398.4" fill="#2b2b2b" stroke="#2b2b2b" stroke-width="0.5" stroke-linejoin="round" />
<polygon points="104.9,328.7 307.9,444.2 307.9,455.6 104.9,340.4" fill="#ece8e0" stroke="none" stroke-width="1.35" stroke-linejoin="round" />
<polyline points="104.9,328.7 307.9,444.2" fill="none" stroke="#2b2b2b" stroke-width="1.35" stroke-linejoin="round" stroke-linecap="round" />
<polyline points="104.9,340.4 307.9,455.6" fill="none" stroke="#2b2b2b" stroke-width="1.8" stroke-linejoin="round" stroke-linecap="round" />
<polyline points="307.9,444.2 307.9,455.6" fill="none" stroke="#2b2b2b" stroke-width="1.35" stroke-linejoin="round" stroke-linecap="round" />
<polygon points="191.9,349.5 192.1,346.7 192.6,344.2 193.4,341.9 194.5,340 195.9,338.4 197.5,337.2 202.7,334.2 204.6,333.4 206.7,332.9 208.9,333 211.3,333.4 213.7,334.2 216.2,335.5 218.7,337.1 221.1,339.1 223.5,341.4 225.7,343.9 227.8,346.7 229.7,349.7 231.3,352.8 232.7,356 233.8,359.2 234.6,362.4 235.1,365.5 235.2,368.5 235.1,371.3 234.6,373.8 233.8,376.1 232.7,378 231.3,379.6 229.7,380.8 224.5,383.8 222.6,384.6 220.5,385.1 218.3,385 215.9,384.6 213.5,383.8 211,382.5 208.5,380.9 206.1,378.9 203.7,376.6 201.5,374.1 199.4,371.3 197.5,368.3 195.9,365.2 194.5,362 193.4,358.8 192.6,355.6 192.1,352.5" fill="#ece8e0" stroke="#2b2b2b" stroke-width="1.35" stroke-linejoin="round" />
<polygon points="230.1,371.5 229.9,374.3 229.4,376.8 228.6,379.1 227.5,381 226.1,382.6 224.5,383.8 222.6,384.7 220.5,385.1 218.3,385 215.9,384.6 213.5,383.7 211,382.5 208.5,380.9 206.1,378.9 203.7,376.6 201.5,374.1 199.4,371.3 197.5,368.3 195.9,365.2 194.5,362 193.4,358.8 192.6,355.6 192.1,352.5 191.9,349.5 192.1,346.7 192.6,344.2 193.4,341.9 194.5,340 195.9,338.4 197.5,337.2 199.4,336.3 201.5,335.9 203.7,336 206.1,336.4 208.5,337.3 211,338.5 213.5,340.1 215.9,342.1 218.3,344.4 220.5,346.9 222.6,349.7 224.5,352.7 226.1,355.8 227.5,359 228.6,362.2 229.4,365.4 229.9,368.5" fill="#ece8e0" stroke="#2b2b2b" stroke-width="1.35" stroke-linejoin="round" />
<path d="M210,336.5 L279,396" fill="none" stroke="#2b2b2b" stroke-width="5.0" stroke-linecap="round" stroke-linejoin="round"/>
<path d="M210,336.5 L279,396" fill="none" stroke="#ece8e0" stroke-width="2.4" stroke-linecap="round" stroke-linejoin="round"/>
<path d="M221,384.5 L265,406.5" fill="none" stroke="#2b2b2b" stroke-width="4.4" stroke-linecap="round" stroke-linejoin="round"/>
<path d="M221,384.5 L265,406.5" fill="none" stroke="#ece8e0" stroke-width="1.8" stroke-linecap="round" stroke-linejoin="round"/>
<polygon points="196.1,372 212.1,363 209.9,359 193.9,368" fill="#ece8e0" stroke="#2b2b2b" stroke-width="1.35" stroke-linejoin="round" />
<polygon points="178.9,369.2 179,367.9 179.2,366.7 179.6,365.6 180.1,364.7 180.8,363.9 181.6,363.4 188.5,359.4 189.4,359 190.4,358.8 191.4,358.8 192.6,359 193.7,359.4 194.9,360 196.1,360.8 197.3,361.7 198.4,362.8 199.5,364 200.5,365.4 201.4,366.8 202.1,368.3 202.8,369.8 203.3,371.3 203.7,372.9 203.9,374.3 204,375.8 203.9,377.1 203.7,378.3 203.3,379.4 202.8,380.3 202.1,381.1 201.4,381.6 194.4,385.6 193.5,386 192.6,386.2 191.5,386.2 190.3,386 189.2,385.6 188,385 186.8,384.2 185.7,383.3 184.5,382.2 183.4,381 182.5,379.6 181.6,378.2 180.8,376.7 180.1,375.2 179.6,373.7 179.2,372.1 179,370.7" fill="#ece8e0" stroke="#2b2b2b" stroke-width="1.35" stroke-linejoin="round" />
<polygon points="197.1,379.8 197,381.1 196.8,382.3 196.4,383.4 195.9,384.3 195.2,385.1 194.4,385.6 193.5,386 192.5,386.2 191.5,386.2 190.4,386 189.2,385.6 188,385 186.8,384.2 185.6,383.3 184.5,382.2 183.5,381 182.5,379.6 181.6,378.2 180.8,376.7 180.1,375.2 179.6,373.7 179.2,372.1 179,370.7 178.9,369.2 179,367.9 179.2,366.7 179.6,365.6 180.1,364.7 180.8,363.9 181.6,363.4 182.5,363 183.5,362.8 184.5,362.8 185.6,363 186.8,363.4 188,364 189.2,364.8 190.4,365.7 191.5,366.8 192.5,368 193.5,369.4 194.4,370.8 195.2,372.3 195.9,373.8 196.4,375.3 196.8,376.9 197,378.3" fill="#ece8e0" stroke="#2b2b2b" stroke-width="1.35" stroke-linejoin="round" />
<polygon points="188.9,375 188.9,375.1 188.8,375.2 188.8,375.3 188.7,375.4 188.7,375.5 188.6,375.6 188.5,375.6 188.4,375.6 188.3,375.6 188.2,375.6 188.1,375.6 188,375.5 187.9,375.4 187.8,375.3 187.7,375.2 187.6,375.1 187.5,375 187.4,374.9 187.3,374.7 187.3,374.6 187.2,374.4 187.2,374.3 187.1,374.1 187.1,374 187.1,373.9 187.2,373.8 187.2,373.7 187.3,373.6 187.3,373.5 187.4,373.4 187.5,373.4 187.6,373.4 187.7,373.4 187.8,373.4 187.9,373.4 188,373.5 188.1,373.6 188.2,373.7 188.3,373.8 188.4,373.9 188.5,374 188.6,374.1 188.7,374.3 188.7,374.4 188.8,374.6 188.8,374.7 188.9,374.9" fill="#2b2b2b" stroke="#2b2b2b" stroke-width="0.5" stroke-linejoin="round" />
<polygon points="284.2,359.2 311.9,343.2 335.7,357 308,373" fill="#cdd9f0" stroke="#2b2b2b" stroke-width="1.35" stroke-linejoin="round" />
<polygon points="308,373 335.7,357 335.7,384.5 308,400.5" fill="#cdd9f0" stroke="#2b2b2b" stroke-width="1.35" stroke-linejoin="round" />
<polygon points="277.7,357 281.6,354.8 310.6,371.5 306.7,373.8" fill="#cdd9f0" stroke="#2b2b2b" stroke-width="1.35" stroke-linejoin="round" />
<polygon points="306.7,373.8 310.6,371.5 310.6,405 306.7,407.2" fill="#cdd9f0" stroke="#2b2b2b" stroke-width="1.35" stroke-linejoin="round" />
<polygon points="277.7,357 306.7,373.8 306.7,407.2 277.7,390.5" fill="#cdd9f0" stroke="#2b2b2b" stroke-width="1.35" stroke-linejoin="round" />
<polygon points="302.8,388.5 302.7,390 302.5,391.4 302,392.6 301.4,393.7 300.7,394.6 299.8,395.2 298.7,395.7 297.6,395.9 296.4,395.9 295.1,395.6 293.8,395.2 292.4,394.5 291.1,393.6 289.7,392.5 288.4,391.3 287.2,389.9 286.1,388.4 285.1,386.7 284.2,385 283.4,383.3 282.8,381.5 282.4,379.8 282.1,378.1 282,376.5 282.1,375 282.4,373.6 282.8,372.4 283.4,371.3 284.2,370.4 285.1,369.8 286.1,369.3 287.2,369.1 288.4,369.1 289.7,369.4 291.1,369.8 292.4,370.5 293.8,371.4 295.1,372.5 296.4,373.7 297.6,375.1 298.7,376.6 299.8,378.3 300.7,380 301.4,381.7 302,383.5 302.5,385.2 302.7,386.9" fill="none" stroke="#7d8aa3" stroke-width="0.7" stroke-linejoin="round" />
<polygon points="298.5,386 298.4,386.9 298.3,387.7 298,388.4 297.7,389 297.2,389.5 296.7,389.9 296.1,390.2 295.5,390.3 294.7,390.3 294,390.2 293.2,389.9 292.4,389.5 291.6,389 290.9,388.4 290.1,387.6 289.4,386.8 288.7,385.9 288.1,385 287.6,384 287.2,383 286.8,381.9 286.6,380.9 286.4,379.9 286.4,379 286.4,378.1 286.6,377.3 286.8,376.6 287.2,376 287.6,375.5 288.1,375.1 288.7,374.8 289.4,374.7 290.1,374.7 290.9,374.8 291.6,375.1 292.4,375.5 293.2,376 294,376.6 294.7,377.4 295.5,378.2 296.1,379.1 296.7,380 297.2,381 297.7,382 298,383.1 298.3,384.1 298.4,385.1" fill="none" stroke="#7d8aa3" stroke-width="0.7" stroke-linejoin="round" />
<polygon points="291.8,378.8 275.8,387.8 278.2,392.2 294.2,383.2" fill="#cdd9f0" stroke="#2b2b2b" stroke-width="1.35" stroke-linejoin="round" />
<polygon points="260,391 260.1,389.6 260.3,388.3 260.7,387.2 261.2,386.2 261.9,385.4 262.8,384.8 266.2,382.8 267.2,382.4 268.2,382.2 269.3,382.2 270.5,382.4 271.7,382.9 273,383.5 274.2,384.3 275.4,385.3 276.6,386.4 277.7,387.7 278.8,389.1 279.7,390.6 280.5,392.2 281.2,393.8 281.8,395.4 282.2,397 282.4,398.5 282.5,400 282.4,401.4 282.2,402.7 281.8,403.8 281.2,404.8 280.5,405.6 279.7,406.2 276.2,408.2 275.3,408.6 274.3,408.8 273.1,408.8 272,408.6 270.7,408.1 269.5,407.5 268.3,406.7 267,405.7 265.9,404.6 264.7,403.3 263.7,401.9 262.8,400.4 261.9,398.8 261.2,397.2 260.7,395.6 260.3,394 260.1,392.5" fill="#ece8e0" stroke="#2b2b2b" stroke-width="1.35" stroke-linejoin="round" />
<polygon points="279,402 278.9,403.4 278.7,404.7 278.3,405.8 277.7,406.8 277.1,407.6 276.2,408.2 275.3,408.6 274.3,408.8 273.1,408.8 272,408.5 270.7,408.1 269.5,407.5 268.3,406.7 267,405.7 265.9,404.6 264.7,403.3 263.7,401.9 262.8,400.4 261.9,398.8 261.3,397.2 260.7,395.6 260.3,394 260.1,392.5 260,391 260.1,389.6 260.3,388.3 260.7,387.2 261.3,386.2 261.9,385.4 262.8,384.8 263.7,384.4 264.7,384.2 265.9,384.2 267,384.5 268.3,384.9 269.5,385.5 270.7,386.3 272,387.3 273.1,388.4 274.3,389.7 275.3,391.1 276.2,392.6 277.1,394.2 277.7,395.8 278.3,397.4 278.7,399 278.9,400.5" fill="#ece8e0" stroke="#2b2b2b" stroke-width="1.35" stroke-linejoin="round" />
<polygon points="268.1,397.4 268,397.6 268,397.8 267.9,398 267.8,398.2 267.7,398.3 267.6,398.4 267.4,398.5 267.3,398.5 267.1,398.5 266.9,398.5 266.7,398.4 266.5,398.3 266.3,398.2 266.1,398 265.9,397.8 265.7,397.6 265.6,397.4 265.4,397.1 265.3,396.9 265.2,396.6 265.1,396.4 265,396.1 265,395.8 264.9,395.6 265,395.4 265,395.2 265.1,395 265.2,394.8 265.3,394.7 265.4,394.6 265.6,394.5 265.7,394.5 265.9,394.5 266.1,394.5 266.3,394.6 266.5,394.7 266.7,394.8 266.9,395 267.1,395.2 267.3,395.4 267.4,395.6 267.6,395.9 267.7,396.1 267.8,396.4 267.9,396.6 268,396.9 268,397.2" fill="none" stroke="#2b2b2b" stroke-width="0.6" stroke-linejoin="round" />
<polygon points="151.6,376.1 127.8,361.6 130.1,357.8 115.7,358.4 121.8,371.5 124.1,367.6 148,382.1" fill="#73a4d8"/>
<polygon points="218.3,423.5 240.9,436.2 238.7,440.1 253.1,439 246.6,426.1 244.4,430.1 221.7,417.3" fill="#73a4d8"/>
<polyline points="276.4,386.6 277.5,388.1 278.6,389.6 279.5,391.2 280.4,392.9 281.1,394.5 281.8,396.2 282.3,397.9 282.8,399.6 283.1,401.2 283.3,402.8 283.4,404.4 283.3,405.9 283.1,407.3 282.8,408.6 282.4,409.8 281.9,410.8 281.2,411.8 280.5,412.6 279.6,413.3 278.7,413.8 277.7,414.1 276.6,414.3 279.2,414.4" fill="none" stroke="#86b1e2" stroke-width="2.2" stroke-linejoin="round" stroke-linecap="round" />
<polygon points="279.3,411.4 274.2,414.3 279.2,417.4" fill="#86b1e2"/>
<polygon points="571,363.9 571.6,359.2 573.2,354.6 575.8,350.1 579.4,345.9 584,341.9 589.3,338.4 595.5,335.3 602.3,332.7 609.6,330.6 617.3,329.1 625.4,328.1 633.5,327.8 641.6,328.1 649.7,329.1 657.4,330.6 664.7,332.7 671.5,335.3 677.7,338.4 683,341.9 687.6,345.9 691.2,350.1 693.8,354.6 695.4,359.2 696,363.9 696,367.9 695.4,372.6 693.8,377.2 691.2,381.7 687.6,385.9 683,389.9 677.7,393.4 671.5,396.5 664.7,399.1 657.4,401.2 649.7,402.7 641.6,403.6 633.5,404 625.4,403.6 617.3,402.7 609.6,401.2 602.3,399.1 595.5,396.5 589.3,393.4 584,389.9 579.4,385.9 575.8,381.7 573.2,377.2 571.6,372.6 571,367.9" fill="#ece8e0" stroke="#2b2b2b" stroke-width="1.35" stroke-linejoin="round" />
<polygon points="677.7,389.4 683.1,385.9 687.6,381.9 691.2,377.7 693.8,373.2 695.4,368.6 696,363.9 695.4,359.2 693.8,354.6 691.2,350.1 687.6,345.9 683.1,341.9 677.7,338.4 671.5,335.3 664.7,332.7 657.4,330.6 649.7,329.1 641.7,328.1 633.5,327.8 625.3,328.1 617.3,329.1 609.6,330.6 602.3,332.7 595.5,335.3 589.3,338.4 583.9,341.9 579.4,345.9 575.8,350.1 573.2,354.6 571.6,359.2 571,363.9 571.6,368.6 573.2,373.2 575.8,377.7 579.4,381.9 583.9,385.9 589.3,389.4 595.5,392.5 602.3,395.1 609.6,397.2 617.3,398.7 625.3,399.7 633.5,400 641.7,399.7 649.7,398.7 657.4,397.2 664.7,395.1 671.5,392.5" fill="#ece8e0" stroke="#2b2b2b" stroke-width="1.35" stroke-linejoin="round" />
<polyline points="571.1,363.9 695.9,363.9" fill="none" stroke="#aca69c" stroke-width="2.2" stroke-linejoin="round" stroke-linecap="round" />
<polyline points="633.5,327.9 633.5,399.9" fill="none" stroke="#aca69c" stroke-width="2.2" stroke-linejoin="round" stroke-linecap="round" />
<polyline points="589.3,338.4 677.7,389.4" fill="none" stroke="#3a3a3a" stroke-width="0.8" stroke-linejoin="round" stroke-linecap="round" />
<polyline points="589.3,389.4 677.7,338.4" fill="none" stroke="#3a3a3a" stroke-width="0.8" stroke-linejoin="round" stroke-linecap="round" />
<polygon points="616.7,328.4 602.4,320.1 616.7,311.9 631,320.1" fill="#ffffff" stroke="#2b2b2b" stroke-width="1.35" stroke-linejoin="round" />
<polygon points="602.4,320.1 616.7,328.4 616.7,349.9 602.4,341.6" fill="#ffffff" stroke="#2b2b2b" stroke-width="1.35" stroke-linejoin="round" />
<polygon points="616.7,328.4 631,320.1 631,341.6 616.7,349.9" fill="#ffffff" stroke="#2b2b2b" stroke-width="1.35" stroke-linejoin="round" />
<polygon points="675.6,341.1 661.3,332.9 675.6,324.6 689.9,332.9" fill="#ffffff" stroke="#2b2b2b" stroke-width="1.35" stroke-linejoin="round" />
<polygon points="661.3,332.9 675.6,341.1 675.6,361.6 661.3,353.4" fill="#ffffff" stroke="#2b2b2b" stroke-width="1.35" stroke-linejoin="round" />
<polygon points="675.6,341.1 689.9,332.9 689.9,353.4 675.6,361.6" fill="#ffffff" stroke="#2b2b2b" stroke-width="1.35" stroke-linejoin="round" />
<polygon points="591.3,361.9 577,353.6 591.3,345.4 605.6,353.6" fill="#ffffff" stroke="#2b2b2b" stroke-width="1.35" stroke-linejoin="round" />
<polygon points="577,353.6 591.3,361.9 591.3,381.2 577,372.9" fill="#ffffff" stroke="#2b2b2b" stroke-width="1.35" stroke-linejoin="round" />
<polygon points="591.3,361.9 605.6,353.6 605.6,372.9 591.3,381.2" fill="#ffffff" stroke="#2b2b2b" stroke-width="1.35" stroke-linejoin="round" />
<polygon points="649,372.3 634.7,364.1 649,355.8 663.3,364.1" fill="#ffffff" stroke="#2b2b2b" stroke-width="1.35" stroke-linejoin="round" />
<polygon points="634.7,364.1 649,372.3 649,392.8 634.7,384.6" fill="#ffffff" stroke="#2b2b2b" stroke-width="1.35" stroke-linejoin="round" />
<polygon points="649,372.3 663.3,364.1 663.3,384.6 649,392.8" fill="#ffffff" stroke="#2b2b2b" stroke-width="1.35" stroke-linejoin="round" />
<polyline points="583.3,333.9 584,333.5 584.8,333.1 585.5,332.7 586.3,332.3 587,332 587.8,331.6 588.6,331.2 589.3,330.9 590.1,330.5 590.9,330.2 591.8,329.8 592.6,329.5 593.4,329.2 594.2,328.9 595.1,328.6 595.9,328.3 596.8,328 597.6,327.7 598.5,327.4 599.4,327.1 600.3,326.9 601.2,326.6 597.2,327.7" fill="none" stroke="#7eaee0" stroke-width="3.6" stroke-linejoin="round" stroke-linecap="round" />
<polygon points="598.3,331.8 603,326.1 596,323.6" fill="#7eaee0"/>
<polyline points="634.8,320.8 635.7,320.8 636.6,320.8 637.5,320.8 638.4,320.9 639.3,320.9 640.2,320.9 641.1,321 642,321 642.8,321.1 643.7,321.2 644.6,321.2 645.5,321.3 646.4,321.4 647.3,321.5 648.2,321.6 649,321.7 649.9,321.8 650.8,321.9 651.7,322.1 652.5,322.2 653.4,322.3 654.2,322.5 650.1,321.7" fill="none" stroke="#7eaee0" stroke-width="3.6" stroke-linejoin="round" stroke-linecap="round" />
<polygon points="649.3,325.9 656,322.8 650.8,317.5" fill="#7eaee0"/>
<polyline points="664.5,324.7 664.8,324.7 665,324.8 665.3,324.9 665.6,324.9 665.8,325 666.1,325.1 666.4,325.2 666.6,325.2 666.9,325.3 667.2,325.4 667.4,325.5 667.7,325.6 668,325.6 668.2,325.7 668.5,325.8 668.8,325.9 669,326 669.3,326 669.6,326.1 669.8,326.2 670.1,326.3 670.3,326.4 667.1,325.3" fill="none" stroke="#7eaee0" stroke-width="3.6" stroke-linejoin="round" stroke-linecap="round" />
<polygon points="666,328.6 670.9,326.5 668.2,322" fill="#7eaee0"/>
<polygon points="683.8,464.3 666.5,454.3 683.5,444.4 700.9,454.4" fill="#cdd9f0" stroke="#2b2b2b" stroke-width="1.35" stroke-linejoin="round" />
<polygon points="666.5,454.3 683.8,464.3 683.8,485 666.5,475" fill="#cdd9f0" stroke="#2b2b2b" stroke-width="1.35" stroke-linejoin="round" />
<polygon points="683.8,464.3 700.9,454.4 700.9,475.1 683.8,485" fill="#cdd9f0" stroke="#2b2b2b" stroke-width="1.35" stroke-linejoin="round" />
<polyline points="666.5,460.3 683.8,470.3 700.9,460.4" fill="none" stroke="#56607a" stroke-width="0.8" stroke-linejoin="round" stroke-linecap="round" />
<polygon points="671.4,449 671.5,448.1 671.8,447.2 672.3,446.3 673,445.5 673.9,444.7 674.9,444 676.1,443.4 677.5,442.9 678.9,442.5 680.4,442.2 682,442 683.6,441.9 685.2,442 686.8,442.2 688.3,442.5 689.7,442.9 691.1,443.4 692.3,444 693.3,444.7 694.2,445.5 694.9,446.3 695.4,447.2 695.7,448.1 695.9,449 695.9,455 695.7,455.9 695.4,456.8 694.9,457.7 694.2,458.5 693.3,459.3 692.3,460 691.1,460.6 689.7,461.1 688.3,461.5 686.8,461.8 685.2,462 683.6,462.1 682,462 680.4,461.8 678.9,461.5 677.5,461.1 676.1,460.6 674.9,460 673.9,459.3 673,458.5 672.3,457.7 671.8,456.8 671.5,455.9 671.4,455" fill="#cdd9f0" stroke="#2b2b2b" stroke-width="1.35" stroke-linejoin="round" />
<polygon points="692.3,454 693.3,453.3 694.2,452.5 694.9,451.7 695.4,450.8 695.7,449.9 695.8,449 695.7,448.1 695.4,447.2 694.9,446.3 694.2,445.5 693.3,444.7 692.3,444 691.1,443.4 689.7,442.9 688.3,442.5 686.8,442.2 685.2,442 683.6,441.9 682,442 680.4,442.2 678.9,442.5 677.5,442.9 676.1,443.4 674.9,444 673.9,444.7 673,445.5 672.3,446.3 671.8,447.2 671.5,448.1 671.4,449 671.5,449.9 671.8,450.8 672.3,451.7 673,452.5 673.9,453.3 674.9,454 676.1,454.6 677.5,455.1 678.9,455.5 680.4,455.8 682,456 683.6,456.1 685.2,456 686.8,455.8 688.3,455.5 689.7,455.1 691.1,454.6" fill="#cdd9f0" stroke="#2b2b2b" stroke-width="1.35" stroke-linejoin="round" />
<polygon points="651.1,405.8 689.1,431.3 690.9,428.7 652.9,403.2" fill="#ece8e0" stroke="#2b2b2b" stroke-width="1.35" stroke-linejoin="round" />
<polygon points="608.3,420.5 675.3,451 676.7,448 609.7,417.5" fill="#ece8e0" stroke="#2b2b2b" stroke-width="1.35" stroke-linejoin="round" />
<polygon points="610,413.5 610.2,411.8 610.8,410.1 611.7,408.4 613.1,406.9 614.7,405.4 616.7,404.1 619,402.9 621.5,402 624.2,401.2 627,400.7 630,400.3 633,400.2 636,400.3 639,400.7 641.8,401.2 644.5,402 647,402.9 649.3,404.1 651.3,405.4 652.9,406.9 654.3,408.4 655.2,410.1 655.8,411.8 656,413.5 656,416.5 655.8,418.2 655.2,419.9 654.3,421.6 652.9,423.1 651.3,424.6 649.3,425.9 647,427.1 644.5,428 641.8,428.8 639,429.3 636,429.7 633,429.8 630,429.7 627,429.3 624.2,428.8 621.5,428 619,427.1 616.7,425.9 614.7,424.6 613.1,423.1 611.7,421.6 610.8,419.9 610.2,418.2 610,416.5" fill="#ece8e0" stroke="#2b2b2b" stroke-width="1.35" stroke-linejoin="round" />
<polygon points="649.3,422.9 651.3,421.6 652.9,420.1 654.3,418.6 655.2,416.9 655.8,415.2 656,413.5 655.8,411.8 655.2,410.1 654.3,408.4 652.9,406.9 651.3,405.4 649.3,404.1 647,403 644.5,402 641.8,401.2 639,400.7 636,400.3 633,400.2 630,400.3 627,400.7 624.2,401.2 621.5,402 619,403 616.7,404.1 614.7,405.4 613.1,406.9 611.7,408.4 610.8,410.1 610.2,411.8 610,413.5 610.2,415.2 610.8,416.9 611.7,418.6 613.1,420.1 614.7,421.6 616.7,422.9 619,424 621.5,425 624.2,425.8 627,426.3 630,426.7 633,426.8 636,426.7 639,426.3 641.8,425.8 644.5,425 647,424" fill="#ece8e0" stroke="#2b2b2b" stroke-width="1.35" stroke-linejoin="round" />
<polygon points="667.5,438 667.6,436.8 668,435.6 668.7,434.5 669.6,433.4 670.8,432.4 672.1,431.5 673.7,430.7 675.4,430 677.3,429.5 679.3,429.1 681.3,428.9 683.4,428.8 685.5,428.9 687.5,429.1 689.5,429.5 691.4,430 693.1,430.7 694.7,431.5 696,432.4 697.2,433.4 698.1,434.5 698.8,435.6 699.2,436.8 699.3,438 699.3,441 699.2,442.2 698.8,443.4 698.1,444.5 697.2,445.6 696,446.6 694.7,447.5 693.1,448.3 691.4,449 689.5,449.5 687.5,449.9 685.5,450.1 683.4,450.2 681.3,450.1 679.3,449.9 677.3,449.5 675.4,449 673.7,448.3 672.1,447.5 670.8,446.6 669.6,445.6 668.7,444.5 668,443.4 667.6,442.2 667.5,441" fill="#ece8e0" stroke="#2b2b2b" stroke-width="1.35" stroke-linejoin="round" />
<polygon points="694.7,444.5 696,443.6 697.2,442.6 698.1,441.5 698.8,440.4 699.2,439.2 699.3,438 699.2,436.8 698.8,435.6 698.1,434.5 697.2,433.4 696,432.4 694.7,431.5 693.1,430.7 691.4,430 689.5,429.5 687.5,429.1 685.5,428.9 683.4,428.8 681.3,428.9 679.3,429.1 677.3,429.5 675.4,430 673.7,430.7 672.1,431.5 670.8,432.4 669.6,433.4 668.7,434.5 668,435.6 667.6,436.8 667.5,438 667.6,439.2 668,440.4 668.7,441.5 669.6,442.6 670.8,443.6 672.1,444.5 673.7,445.3 675.4,446 677.3,446.5 679.3,446.9 681.3,447.1 683.4,447.2 685.5,447.1 687.5,446.9 689.5,446.5 691.4,446 693.1,445.3" fill="#ece8e0" stroke="#2b2b2b" stroke-width="1.35" stroke-linejoin="round" />
<polygon points="685.3,439.1 685.5,438.9 685.7,438.8 685.9,438.6 686,438.4 686.1,438.2 686.1,438 686.1,437.8 686,437.6 685.9,437.4 685.7,437.2 685.5,437.1 685.3,436.9 685,436.8 684.7,436.7 684.4,436.6 684.1,436.5 683.8,436.5 683.4,436.4 683,436.5 682.7,436.5 682.4,436.6 682.1,436.7 681.8,436.8 681.5,436.9 681.3,437.1 681.1,437.2 680.9,437.4 680.8,437.6 680.7,437.8 680.7,438 680.7,438.2 680.8,438.4 680.9,438.6 681.1,438.8 681.3,438.9 681.5,439.1 681.8,439.2 682.1,439.3 682.4,439.4 682.7,439.5 683,439.5 683.4,439.6 683.8,439.5 684.1,439.5 684.4,439.4 684.7,439.3 685,439.2" fill="none" stroke="#2b2b2b" stroke-width="0.6" stroke-linejoin="round" />
<polyline points="700.7,448 702,447.2 703.2,446.4 704.2,445.5 705.1,444.5 705.9,443.6 706.6,442.5 707.1,441.5 707.5,440.5 707.8,439.4 707.9,438.3 707.9,437.2 707.7,436.2 707.4,435.1 706.9,434 706.3,433 705.6,432 704.7,431.1 703.8,430.1 702.7,429.3 701.5,428.4 700.1,427.7 698.7,427 697.2,426.3 695.6,425.8" fill="none" stroke="#8db6e4" stroke-width="2.2" stroke-linejoin="round" stroke-linecap="round" />
<polygon points="1061.6,409.2 1046.9,400.7 1072.9,385.7 1087.6,394.2" fill="#ffffff" stroke="#2b2b2b" stroke-width="1.35" stroke-linejoin="round" />
<polygon points="1046.9,400.7 1061.6,409.2 1061.6,493.2 1046.9,484.7" fill="#ffffff" stroke="#2b2b2b" stroke-width="1.35" stroke-linejoin="round" />
<polygon points="1061.6,409.2 1087.6,394.2 1087.6,478.2 1061.6,493.2" fill="#ffffff" stroke="#2b2b2b" stroke-width="1.35" stroke-linejoin="round" />
<polygon points="1044.6,352.3 983.6,403.3 986.4,406.7 1047.4,355.7" fill="#ece8e0" stroke="#2b2b2b" stroke-width="1.35" stroke-linejoin="round" />
<polygon points="1044.2,402.2 998.2,421.2 999.8,424.8 1045.8,405.8" fill="#ece8e0" stroke="#2b2b2b" stroke-width="1.35" stroke-linejoin="round" />
<polygon points="1026.7,388.3 1026.9,385.3 1027.4,382.2 1028.2,379 1029.3,375.8 1030.7,372.6 1032.3,369.5 1034.2,366.5 1036.2,363.8 1038.5,361.2 1040.8,358.9 1043.3,356.9 1045.8,355.3 1048.3,354.1 1050.7,353.2 1053.1,352.8 1055.3,352.8 1057.4,353.1 1059.2,354 1063.6,356.5 1065.2,357.7 1066.6,359.3 1067.7,361.2 1068.5,363.5 1069,366 1069.2,368.8 1069,371.8 1068.5,374.9 1067.7,378.1 1066.6,381.3 1065.2,384.5 1063.6,387.6 1061.7,390.6 1059.6,393.4 1057.4,395.9 1055,398.2 1052.6,400.2 1050.1,401.8 1047.6,403.1 1045.2,403.9 1042.8,404.3 1040.6,404.4 1038.5,403.9 1036.6,403.1 1032.3,400.6 1030.7,399.4 1029.3,397.8 1028.2,395.9 1027.4,393.6 1026.9,391.1" fill="#ece8e0" stroke="#2b2b2b" stroke-width="1.35" stroke-linejoin="round" />
<polygon points="1069.2,368.8 1069,371.8 1068.5,374.9 1067.7,378.1 1066.6,381.3 1065.2,384.5 1063.6,387.6 1061.7,390.6 1059.6,393.4 1057.4,395.9 1055,398.2 1052.6,400.2 1050.1,401.8 1047.6,403 1045.2,403.9 1042.8,404.3 1040.6,404.4 1038.5,404 1036.6,403.1 1035,401.9 1033.6,400.3 1032.5,398.4 1031.7,396.1 1031.2,393.6 1031,390.8 1031.2,387.8 1031.7,384.7 1032.5,381.5 1033.6,378.3 1035,375.1 1036.6,372 1038.5,369 1040.6,366.2 1042.8,363.7 1045.2,361.4 1047.6,359.4 1050.1,357.8 1052.6,356.6 1055,355.7 1057.4,355.3 1059.6,355.2 1061.7,355.6 1063.6,356.5 1065.2,357.7 1066.6,359.3 1067.7,361.2 1068.5,363.5 1069,366" fill="#ece8e0" stroke="#2b2b2b" stroke-width="1.35" stroke-linejoin="round" />
<polygon points="1061.6,384.2 1046.9,375.7 1140.4,321.7 1155.1,330.2" fill="#ece8e0" stroke="#2b2b2b" stroke-width="1.35" stroke-linejoin="round" />
<polygon points="1046.9,375.7 1061.6,384.2 1061.6,409.2 1046.9,400.7" fill="#ece8e0" stroke="#2b2b2b" stroke-width="1.35" stroke-linejoin="round" />
<polygon points="1061.6,384.2 1155.1,330.2 1155.1,355.2 1061.6,409.2" fill="#ece8e0" stroke="#2b2b2b" stroke-width="1.35" stroke-linejoin="round" />
<polyline points="1072.9,360.7 1087.6,369.2 1087.6,394.2" fill="none" stroke="#2b2b2b" stroke-width="1.35" stroke-linejoin="round" stroke-linecap="round" />
<polygon points="1076.1,388.3 1076.1,388.5 1076.1,388.8 1076,389.1 1075.9,389.3 1075.8,389.6 1075.7,389.8 1075.5,390.1 1075.4,390.3 1075.2,390.5 1075,390.7 1074.8,390.9 1074.6,391 1074.4,391.1 1074.2,391.2 1074,391.2 1073.8,391.2 1073.6,391.2 1073.5,391.1 1073.4,391 1073.2,390.9 1073.1,390.7 1073.1,390.5 1073,390.3 1073,390.1 1073,389.9 1073.1,389.6 1073.1,389.3 1073.2,389.1 1073.4,388.8 1073.5,388.6 1073.6,388.3 1073.8,388.1 1074,387.9 1074.2,387.7 1074.4,387.5 1074.6,387.4 1074.8,387.3 1075,387.2 1075.2,387.2 1075.4,387.2 1075.5,387.2 1075.7,387.3 1075.8,387.4 1075.9,387.5 1076,387.7 1076.1,387.9 1076.1,388.1" fill="none" stroke="#2b2b2b" stroke-width="0.6" stroke-linejoin="round" />
<polygon points="958.3,391.8 931.5,376.2 956.6,361.8 983.4,377.2" fill="#cdd9f0" stroke="#2b2b2b" stroke-width="1.35" stroke-linejoin="round" />
<polygon points="931.5,376.2 958.3,391.8 958.3,420.8 931.5,405.2" fill="#cdd9f0" stroke="#2b2b2b" stroke-width="1.35" stroke-linejoin="round" />
<polygon points="960.5,393 956.6,390.8 985.2,374.2 989.1,376.5" fill="#cdd9f0" stroke="#2b2b2b" stroke-width="1.35" stroke-linejoin="round" />
<polygon points="956.6,390.8 960.5,393 960.5,426 956.6,423.8" fill="#cdd9f0" stroke="#2b2b2b" stroke-width="1.35" stroke-linejoin="round" />
<polygon points="960.5,393 989.1,376.5 989.1,409.5 960.5,426" fill="#cdd9f0" stroke="#2b2b2b" stroke-width="1.35" stroke-linejoin="round" />
<polygon points="985.6,395.1 985.5,396.7 985.3,398.5 984.8,400.3 984.2,402.1 983.4,404 982.5,405.7 981.4,407.4 980.2,409 978.9,410.5 977.6,411.8 976.2,412.9 974.8,413.8 973.4,414.5 972,415 970.7,415.2 969.4,415.3 968.2,415 967.1,414.6 966.2,413.9 965.4,413 964.8,411.9 964.3,410.6 964.1,409.1 964,407.6 964.1,405.9 964.3,404.1 964.8,402.3 965.4,400.5 966.2,398.6 967.1,396.9 968.2,395.2 969.4,393.6 970.7,392.1 972,390.8 973.4,389.7 974.8,388.8 976.2,388.1 977.6,387.6 978.9,387.4 980.2,387.3 981.4,387.6 982.5,388 983.4,388.7 984.2,389.6 984.8,390.7 985.3,392 985.5,393.5" fill="none" stroke="#7d8aa3" stroke-width="0.7" stroke-linejoin="round" />
<polygon points="980.9,397.8 980.8,398.7 980.7,399.7 980.4,400.7 980,401.8 979.6,402.8 979.1,403.8 978.5,404.7 977.8,405.6 977.1,406.4 976.4,407.2 975.6,407.8 974.8,408.3 974,408.7 973.2,409 972.5,409.1 971.8,409.1 971.1,409 970.5,408.7 970,408.3 969.6,407.8 969.2,407.2 968.9,406.5 968.8,405.7 968.7,404.8 968.8,403.9 968.9,402.9 969.2,401.9 969.6,400.8 970,399.8 970.5,398.8 971.1,397.9 971.8,397 972.5,396.2 973.2,395.4 974,394.8 974.8,394.3 975.6,393.9 976.4,393.6 977.1,393.5 977.8,393.5 978.5,393.6 979.1,393.9 979.6,394.3 980,394.8 980.4,395.4 980.7,396.1 980.8,396.9" fill="none" stroke="#7d8aa3" stroke-width="0.7" stroke-linejoin="round" />
<polygon points="973.7,403.7 985.7,410.7 988.3,406.3 976.3,399.3" fill="#cdd9f0" stroke="#2b2b2b" stroke-width="1.35" stroke-linejoin="round" />
<polygon points="982.6,418.2 982.7,416.6 983,414.8 983.4,413 984.1,411.2 984.9,409.4 985.8,407.6 986.9,405.9 988,404.3 989.3,402.8 990.6,401.5 992,400.4 993.4,399.5 994.9,398.8 996.2,398.3 997.6,398.1 998.9,398.1 1000,398.3 1001.1,398.7 1004.5,400.7 1005.5,401.4 1006.3,402.3 1006.9,403.4 1007.4,404.7 1007.6,406.2 1007.7,407.8 1007.6,409.4 1007.4,411.2 1006.9,413 1006.3,414.8 1005.5,416.6 1004.5,418.4 1003.5,420.1 1002.3,421.7 1001,423.2 999.7,424.5 998.3,425.6 996.9,426.5 995.5,427.2 994.1,427.7 992.8,427.9 991.5,427.9 990.3,427.7 989.2,427.3 985.8,425.3 984.9,424.6 984.1,423.7 983.4,422.6 983,421.3 982.7,419.8" fill="#ece8e0" stroke="#2b2b2b" stroke-width="1.35" stroke-linejoin="round" />
<polygon points="1007.7,407.8 1007.6,409.4 1007.4,411.2 1006.9,413 1006.3,414.8 1005.5,416.7 1004.6,418.4 1003.5,420.1 1002.3,421.7 1001,423.2 999.7,424.5 998.3,425.6 996.9,426.5 995.5,427.2 994.1,427.7 992.8,427.9 991.5,428 990.3,427.7 989.2,427.3 988.3,426.6 987.5,425.7 986.9,424.6 986.4,423.3 986.2,421.8 986.1,420.2 986.2,418.6 986.4,416.8 986.9,415 987.5,413.2 988.3,411.3 989.2,409.6 990.3,407.9 991.5,406.3 992.8,404.8 994.1,403.5 995.5,402.4 996.9,401.5 998.3,400.8 999.7,400.3 1001,400.1 1002.3,400 1003.5,400.3 1004.6,400.7 1005.5,401.4 1006.3,402.3 1006.9,403.4 1007.4,404.7 1007.6,406.2" fill="#ece8e0" stroke="#2b2b2b" stroke-width="1.35" stroke-linejoin="round" />
<polygon points="998.5,413.1 998.4,413.3 998.4,413.6 998.3,413.9 998.2,414.1 998.1,414.4 998,414.6 997.8,414.9 997.7,415.1 997.5,415.3 997.3,415.5 997.1,415.7 996.9,415.8 996.7,415.9 996.5,416 996.3,416 996.1,416 996,416 995.8,415.9 995.7,415.8 995.6,415.7 995.5,415.5 995.4,415.3 995.4,415.1 995.3,414.9 995.4,414.7 995.4,414.4 995.5,414.1 995.6,413.9 995.7,413.6 995.8,413.4 996,413.1 996.1,412.9 996.3,412.7 996.5,412.5 996.7,412.3 996.9,412.2 997.1,412.1 997.3,412 997.5,412 997.7,412 997.8,412 998,412.1 998.1,412.2 998.2,412.3 998.3,412.5 998.4,412.7 998.4,412.9" fill="none" stroke="#2b2b2b" stroke-width="0.6" stroke-linejoin="round" />
<polyline points="1148,368 1148.6,372.7 1149,377.4 1149.1,382.1 1149,386.9 1148.7,391.6 1148.1,396.4 1147.2,401.1 1146.2,405.9 1144.9,410.5 1143.4,415.1 1141.6,419.7 1139.6,424.1 1137.4,428.5 1135,432.7 1132.3,436.8 1129.5,440.8 1126.4,444.6 1123.1,448.3 1119.6,451.8 1115.9,455.1 1112,458.1 1107.9,461 1103.5,463.6 1099,466" fill="none" stroke="#73a4d8" stroke-width="2.6" stroke-linejoin="round" stroke-linecap="round" />
<polygon points="1152.7,374.5 1147.8,366 1144.8,375.4" fill="#73a4d8"/>
<polygon points="1103.1,459.1 1097.3,467 1107.1,466" fill="#73a4d8"/>
<defs><linearGradient id="og" x1="0" y1="0" x2="0" y2="1"><stop offset="0" stop-color="#f06a1e"/><stop offset="1" stop-color="#f7a21b"/></linearGradient></defs>
<polygon points="560,404 562.6,402 562.6,424 571,424.5 572,426.9 560,426.9" fill="url(#og)" stroke="none" stroke-width="1.35" stroke-linejoin="round" />
<polygon points="605.4,404 602.8,402 602.8,424 594.4,424.5 593.4,426.9 605.4,426.9" fill="url(#og)" stroke="none" stroke-width="1.35" stroke-linejoin="round" />
<polygon points="564.2,399 567,401.5 567,421.5 574,424.5 564.2,424.5" fill="url(#og)" stroke="none" stroke-width="1.35" stroke-linejoin="round" />
<polygon points="601.2,399 598.4,401.5 598.4,421.5 591.4,424.5 601.2,424.5" fill="url(#og)" stroke="none" stroke-width="1.35" stroke-linejoin="round" />
<polygon points="568.3,395 571.4,397.5 571.4,418 576,422 576,424 568.3,421" fill="url(#og)" stroke="none" stroke-width="1.35" stroke-linejoin="round" />
<polygon points="597.1,395 594,397.5 594,418 589.4,422 589.4,424 597.1,421" fill="url(#og)" stroke="none" stroke-width="1.35" stroke-linejoin="round" />
<path d="M580,397 C574,399 572,405 576,413 L578,411 C576,406 577,402 580,401 Z" fill="url(#og)" stroke="none" stroke-width="1" stroke-linejoin="round" stroke-linecap="round" />
<path d="M580,397 L581.5,397 L581.5,422 L580,422 Z" fill="url(#og)" stroke="none" stroke-width="1" stroke-linejoin="round" stroke-linecap="round" />
<path d="M581.5,422 C589,420 592,413 589,406 L587,407 C589,412 587,417 581.5,418 Z" fill="url(#og)" stroke="none" stroke-width="1" stroke-linejoin="round" stroke-linecap="round" />
<polygon points="577.7,424 587.7,424 586.5,426.9 578.9,426.9" fill="url(#og)" stroke="none" stroke-width="1.35" stroke-linejoin="round" />
<text x="657" y="415.8" text-anchor="middle" font-family="Liberation Sans, sans-serif" font-size="18" font-weight="bold" fill="#f18a25" textLength="82" lengthAdjust="spacingAndGlyphs">智造资料网</text>
<text x="657" y="425" text-anchor="middle" font-family="Liberation Sans, sans-serif" font-size="4.6" font-weight="bold" fill="#f18a25" textLength="82" lengthAdjust="spacingAndGlyphs">INTELLIGENT MANUFACTURING DATA</text>
</svg>
</body></html>
